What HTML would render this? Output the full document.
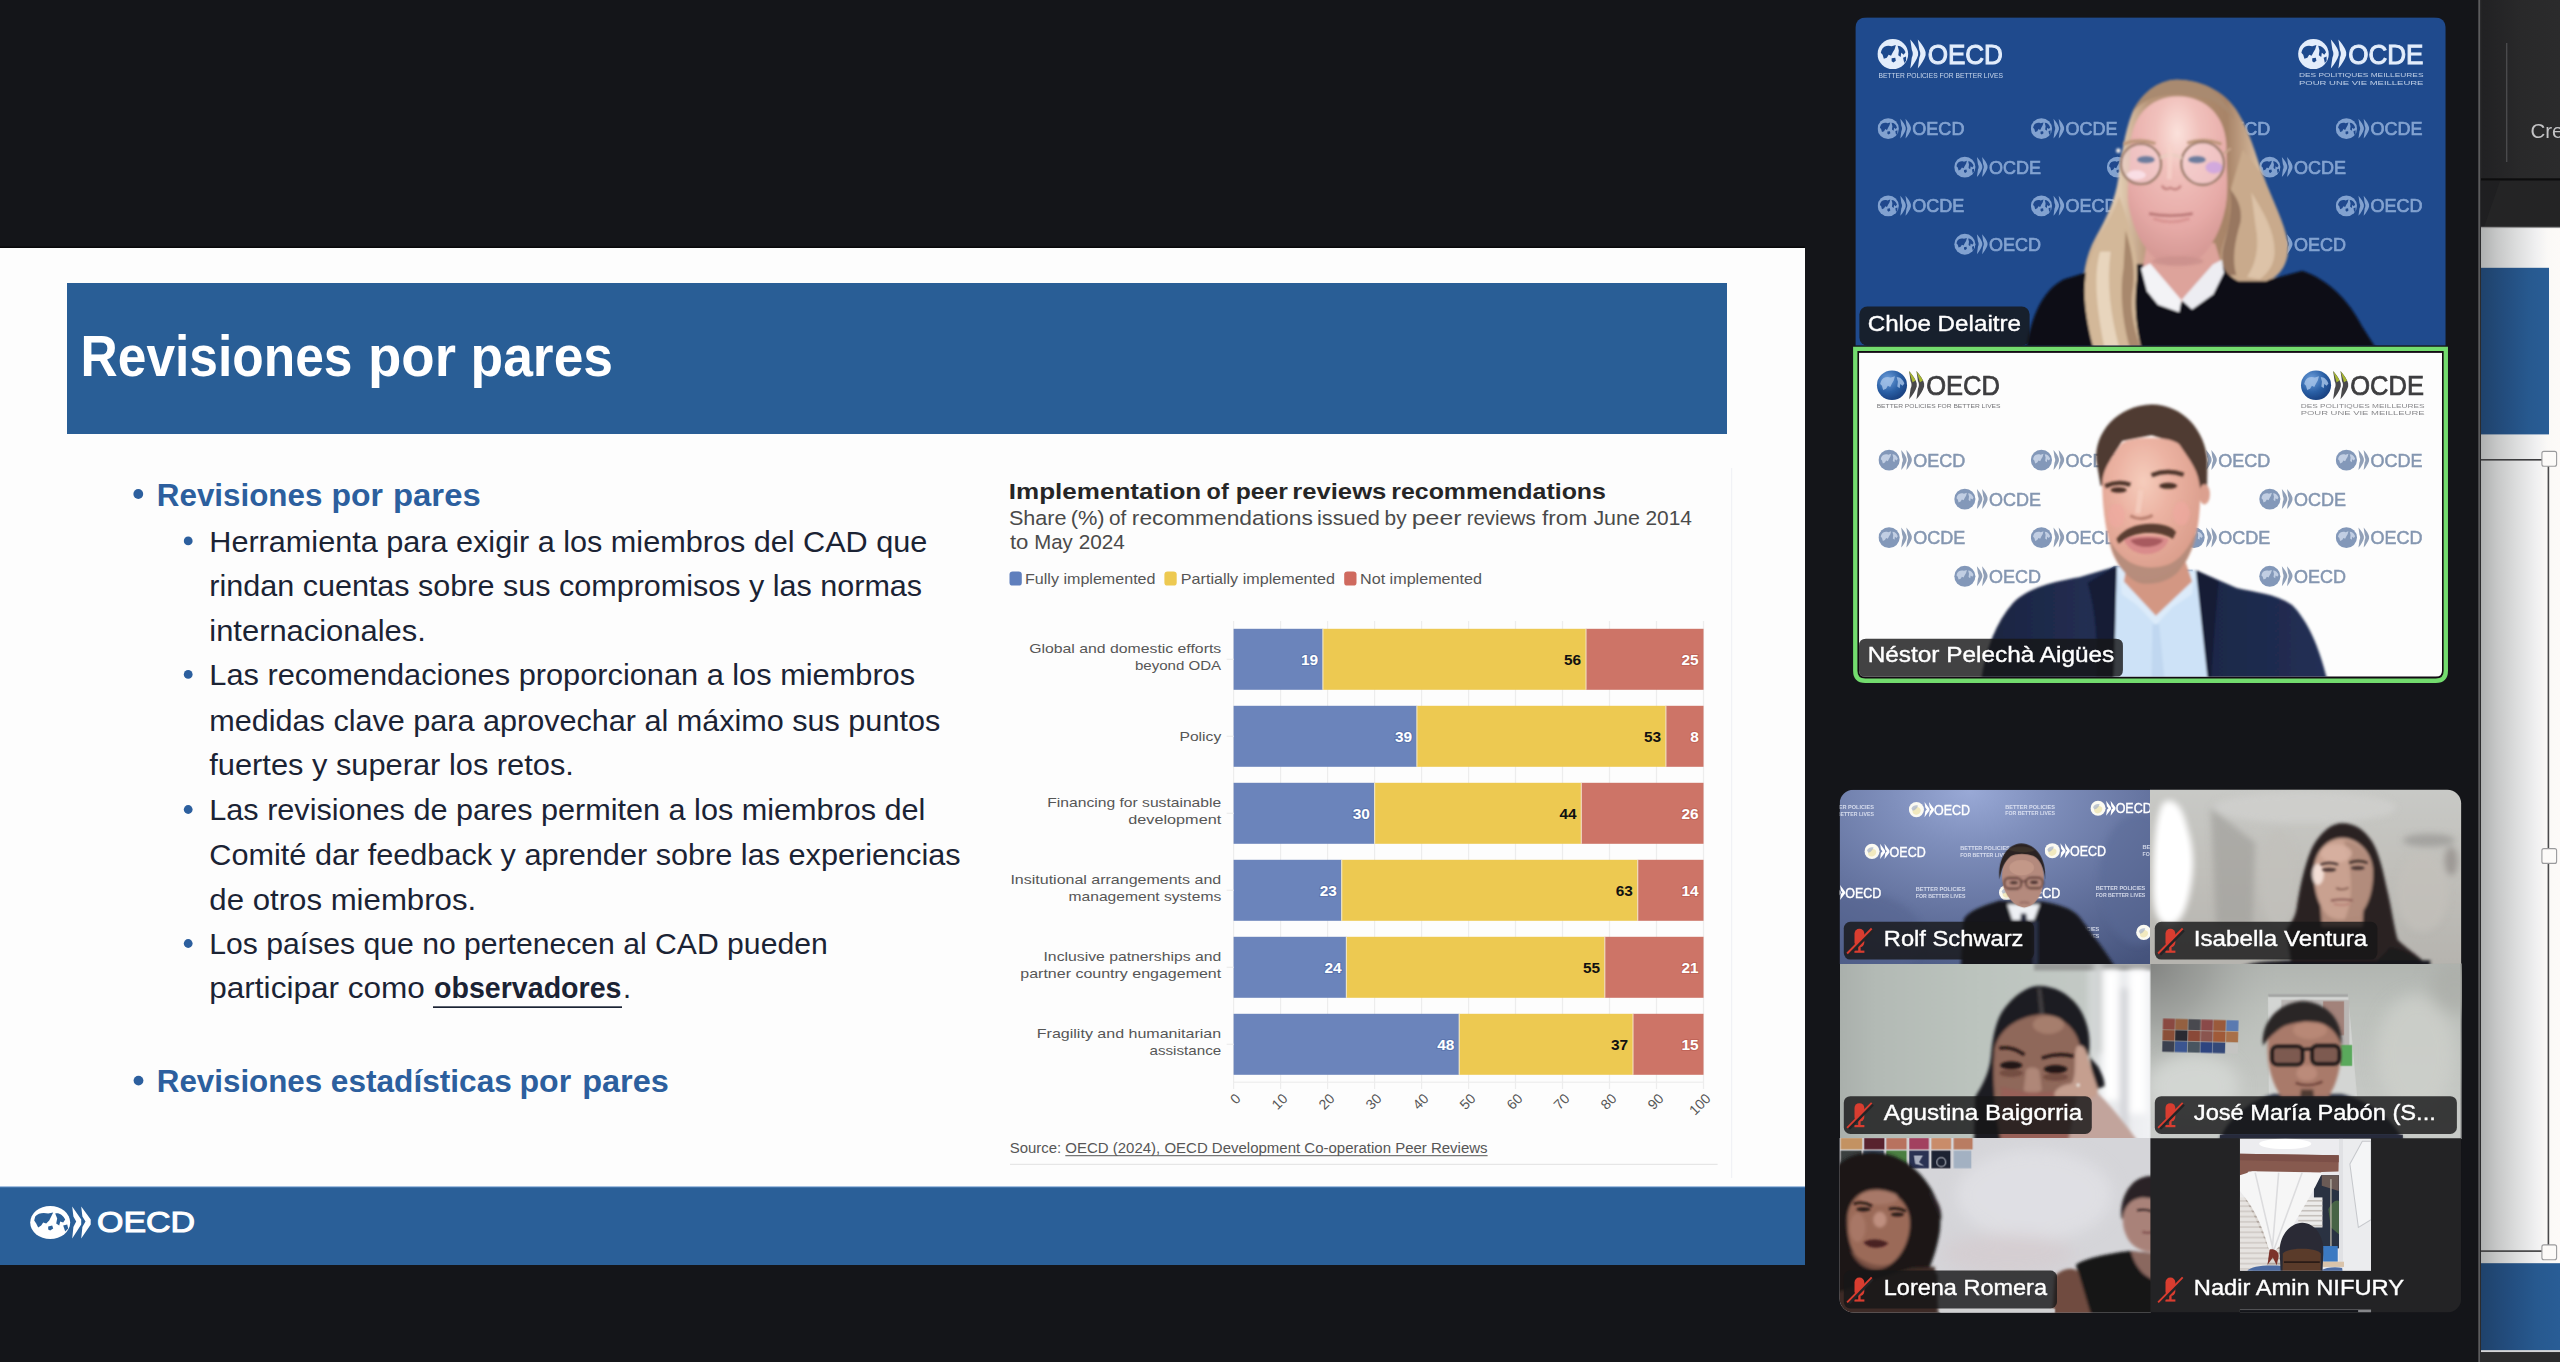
<!DOCTYPE html>
<html><head><meta charset="utf-8"><title>Zoom Meeting</title>
<style>
html,body{margin:0;padding:0;background:#141519;width:2560px;height:1362px;overflow:hidden}
svg{display:block;font-family:"Liberation Sans",sans-serif}
text{white-space:pre}
</style></head><body>
<svg width="2560" height="1362" viewBox="0 0 2560 1362">
<defs>
<filter id="b1" x="-20%" y="-20%" width="140%" height="140%"><feGaussianBlur stdDeviation="1"/></filter>
<filter id="b2" x="-20%" y="-20%" width="140%" height="140%"><feGaussianBlur stdDeviation="2"/></filter>
<filter id="b3" x="-20%" y="-20%" width="140%" height="140%"><feGaussianBlur stdDeviation="3.5"/></filter>
<filter id="b5" x="-20%" y="-20%" width="140%" height="140%"><feGaussianBlur stdDeviation="5"/></filter>
<filter id="b9" x="-30%" y="-30%" width="160%" height="160%"><feGaussianBlur stdDeviation="9"/></filter>
<filter id="b6" x="-30%" y="-30%" width="160%" height="160%"><feGaussianBlur stdDeviation="6"/></filter>
<filter id="b12" x="-40%" y="-40%" width="180%" height="180%"><feGaussianBlur stdDeviation="12"/></filter>
<filter id="b60" x="-60%" y="-60%" width="220%" height="220%"><feGaussianBlur stdDeviation="60"/></filter>
<filter id="b25" x="-50%" y="-50%" width="200%" height="200%"><feGaussianBlur stdDeviation="25"/></filter>
<clipPath id="c1"><path d="M122,1196 L122,102 Q122,60 164,60 L2123,60 Q2165,60 2165,102 L2165,1196 Z"/></clipPath>
<linearGradient id="hair1" x1="0" y1="0" x2="1" y2="0"><stop offset="0" stop-color="#c7a98b"/><stop offset="0.18" stop-color="#e2ccb2"/><stop offset="0.32" stop-color="#b8967a"/><stop offset="0.7" stop-color="#a88468"/><stop offset="0.86" stop-color="#d8bc9f"/><stop offset="1" stop-color="#bb9a7d"/></linearGradient>
<radialGradient id="face1" cx="0.5" cy="0.22" r="0.75"><stop offset="0" stop-color="#fbe2dc"/><stop offset="0.3" stop-color="#f1c1bc"/><stop offset="0.75" stop-color="#e6aaa7"/><stop offset="1" stop-color="#d79a96"/></radialGradient>
<clipPath id="c2"><path d="M135,78 L2152,78 L2152,1178 Q2152,1200 2130,1200 L157,1200 Q135,1200 135,1178 Z"/></clipPath>
<radialGradient id="globe2" cx="0.35" cy="0.3" r="0.8"><stop offset="0" stop-color="#6fa0dc"/><stop offset="0.55" stop-color="#2a5fa5"/><stop offset="1" stop-color="#163a78"/></radialGradient>
<radialGradient id="face2" cx="0.42" cy="0.3" r="0.8"><stop offset="0" stop-color="#f6cdbc"/><stop offset="0.35" stop-color="#ecb3a3"/><stop offset="0.8" stop-color="#dc9f8d"/><stop offset="1" stop-color="#c98f7e"/></radialGradient>
<linearGradient id="suit2" x1="0" y1="0" x2="1" y2="0"><stop offset="0" stop-color="#1b2440"/><stop offset="0.3" stop-color="#222e52"/><stop offset="0.6" stop-color="#1c2747"/><stop offset="1" stop-color="#222f55"/></linearGradient>
<clipPath id="cg"><rect x="68" y="68" width="2150" height="1809" rx="48"/></clipPath>
<clipPath id="cA"><rect x="68" y="68" width="1076" height="603"/></clipPath>
<clipPath id="cB"><rect x="1143" y="68" width="1075" height="603"/></clipPath>
<clipPath id="cC"><rect x="68" y="670" width="1076" height="605"/></clipPath>
<clipPath id="cD"><rect x="1143" y="670" width="1075" height="605"/></clipPath>
<clipPath id="cE"><rect x="68" y="1274" width="1076" height="603"/></clipPath>
<clipPath id="cF"><rect x="1143" y="1274" width="1075" height="603"/></clipPath>
<linearGradient id="gA" x1="0" y1="0" x2="1" y2="1"><stop offset="0" stop-color="#6c80b4"/><stop offset="0.35" stop-color="#8296c8"/><stop offset="0.7" stop-color="#5a6ea3"/><stop offset="1" stop-color="#3c4d80"/></linearGradient>
<linearGradient id="gB" x1="0" y1="0" x2="1" y2="0"><stop offset="0" stop-color="#cfccc5"/><stop offset="0.08" stop-color="#f2f0ec"/><stop offset="0.17" stop-color="#d3d0c8"/><stop offset="0.6" stop-color="#c9c6be"/><stop offset="1" stop-color="#b3aea6"/></linearGradient>
<linearGradient id="gC" x1="0" y1="0" x2="1" y2="0"><stop offset="0" stop-color="#c3c9c1"/><stop offset="0.55" stop-color="#cdd2cb"/><stop offset="0.8" stop-color="#dfe2e0"/><stop offset="0.9" stop-color="#f6f7f8"/><stop offset="1" stop-color="#e3e5e6"/></linearGradient>
<linearGradient id="gD" x1="0" y1="0" x2="1" y2="0"><stop offset="0" stop-color="#c6cac5"/><stop offset="0.5" stop-color="#d3d6d1"/><stop offset="1" stop-color="#c2c5c0"/></linearGradient>
<radialGradient id="gA2" cx="0.42" cy="0.02" r="0.95" gradientTransform="scale(1,1.2)"><stop offset="0" stop-color="#99a9d6"/><stop offset="0.26" stop-color="#7f8fbc"/><stop offset="0.58" stop-color="#6675a1"/><stop offset="1" stop-color="#45537c"/></radialGradient>
<linearGradient id="gB2" x1="0" y1="0" x2="0" y2="1"><stop offset="0" stop-color="#c9cac7"/><stop offset="0.4" stop-color="#c2c1bc"/><stop offset="1" stop-color="#b6b4af"/></linearGradient>
<linearGradient id="gC2" x1="0" y1="0" x2="1" y2="0"><stop offset="0" stop-color="#a9afab"/><stop offset="0.12" stop-color="#b3bab5"/><stop offset="0.45" stop-color="#bcc4be"/><stop offset="0.78" stop-color="#c3c9c5"/><stop offset="0.84" stop-color="#e6e8ea"/><stop offset="1" stop-color="#f1f2f5"/></linearGradient>
<linearGradient id="gD2" x1="0" y1="0" x2="0" y2="1"><stop offset="0" stop-color="#b1b5b1"/><stop offset="0.25" stop-color="#bcc0bb"/><stop offset="0.7" stop-color="#c4c7c3"/><stop offset="1" stop-color="#c9ccc9"/></linearGradient>
<radialGradient id="topD" gradientUnits="userSpaceOnUse" cx="0" cy="0" r="1000"><stop offset="0" stop-color="#7f807e" stop-opacity="0.95"/><stop offset="0.45" stop-color="#8e908d" stop-opacity="0.6"/><stop offset="1" stop-color="#b1b5b1" stop-opacity="0"/></radialGradient>
<clipPath id="cF2"><rect x="703" y="20" width="1004" height="1012"/></clipPath>
<linearGradient id="shd" x1="0" y1="0" x2="1" y2="0"><stop offset="0" stop-color="#aeb0b0"/><stop offset="0.2" stop-color="#c6c7c7"/><stop offset="0.45" stop-color="#dcdddd"/><stop offset="0.7" stop-color="#f0f0f1"/><stop offset="0.85" stop-color="#fbf9f7"/><stop offset="1" stop-color="#fdfaf8"/></linearGradient>
<linearGradient id="sbl" x1="0" y1="0" x2="1" y2="0"><stop offset="0" stop-color="#1f426b"/><stop offset="0.35" stop-color="#234d7e"/><stop offset="0.7" stop-color="#27598f"/><stop offset="1" stop-color="#295d96"/></linearGradient>
<linearGradient id="tb" x1="0" y1="0" x2="1" y2="0"><stop offset="0" stop-color="#212123"/><stop offset="0.5" stop-color="#29292a"/><stop offset="1" stop-color="#2b2b2c"/></linearGradient>
</defs>
<rect width="2560" height="1362" fill="#141519"/>
<rect x="0" y="248" width="1805" height="1017" fill="#fdfdfd"/>
<rect x="0" y="246.5" width="1805" height="1.5" fill="#08080a"/>
<rect x="67" y="283" width="1660" height="151" fill="#295e96"/>
<text x="80.6" y="376.1" font-size="57" fill="#ffffff" font-weight="bold" textLength="271.8" lengthAdjust="spacingAndGlyphs" >Revisiones</text>
<text x="368.0" y="376.1" font-size="57" fill="#ffffff" font-weight="bold" textLength="88.0" lengthAdjust="spacingAndGlyphs" >por</text>
<text x="470.6" y="376.1" font-size="57" fill="#ffffff" font-weight="bold" textLength="142.4" lengthAdjust="spacingAndGlyphs" >pares</text>
<rect x="0" y="1187" width="1805" height="78" fill="#2a5f98"/>
<rect x="0" y="1186.3" width="1805" height="1" fill="#7fa6d3"/>
<g transform="translate(50.2,1222.5) scale(1.000)" opacity="1.0"><ellipse cx="0" cy="0" rx="20" ry="16.6" fill="#ffffff"/><path d="M-15,-6 C-12,-10 -6,-10 -2,-9 L3,-10 L1,-6 L-1,-2 L-4,1 L-7,0 L-9,3 L-12,5 L-14,1 L-16,-2 Z" fill="#2a5f98"/><path d="M5,-9 C9,-10 13,-7 15,-3 L13,0 L10,-1 L9,3 L6,1 L7,-4 Z" fill="#2a5f98"/><path d="M-2,4 L2,3 L3,6 L0,8 L-2,7 Z" fill="#2a5f98"/><path d="M13,3 L17,2 L18,6 L15,9 Z" fill="#2a5f98"/><path d="M22,-16 L31,-3 L31,2 L22,16 L23.2,4.5 L26,-1 L23.2,-6 Z" fill="#ffffff"/><path d="M31,-16 L40.5,-3 L40.5,2 L31,16 L32.2,4.5 L35.3,-1 L32.2,-6 Z" fill="#ffffff"/><text x="46.8" y="9.3" font-size="30" fill="#ffffff" stroke="#ffffff" stroke-width="1.1" textLength="98" lengthAdjust="spacingAndGlyphs">OECD</text></g>
<circle cx="138.3" cy="494" r="4.9" fill="#2c5f9e"/>
<text x="156.8" y="506.2" font-size="31" fill="#2c5f9e" font-weight="bold" textLength="165.6" lengthAdjust="spacingAndGlyphs" >Revisiones</text>
<text x="331.5" y="506.2" font-size="31" fill="#2c5f9e" font-weight="bold" textLength="51.5" lengthAdjust="spacingAndGlyphs" >por</text>
<text x="393.0" y="506.2" font-size="31" fill="#2c5f9e" font-weight="bold" textLength="87.7" lengthAdjust="spacingAndGlyphs" >pares</text>
<circle cx="188.2" cy="540.9" r="4.4" fill="#2c5f9e"/>
<text x="209.3" y="551.7" font-size="29" fill="#1b2334" textLength="718.0" lengthAdjust="spacingAndGlyphs" >Herramienta para exigir a los miembros del CAD que</text>
<text x="209.3" y="596.0" font-size="29" fill="#1b2334" textLength="712.8" lengthAdjust="spacingAndGlyphs" >rindan cuentas sobre sus compromisos y las normas</text>
<text x="209.3" y="640.9" font-size="29" fill="#1b2334" textLength="216.5" lengthAdjust="spacingAndGlyphs" >internacionales.</text>
<circle cx="188.2" cy="674.4" r="4.4" fill="#2c5f9e"/>
<text x="209.3" y="685.2" font-size="29" fill="#1b2334" textLength="705.8" lengthAdjust="spacingAndGlyphs" >Las recomendaciones proporcionan a los miembros</text>
<text x="209.3" y="730.8" font-size="29" fill="#1b2334" textLength="730.9" lengthAdjust="spacingAndGlyphs" >medidas clave para aprovechar al máximo sus puntos</text>
<text x="209.3" y="774.7" font-size="29" fill="#1b2334" textLength="364.6" lengthAdjust="spacingAndGlyphs" >fuertes y superar los retos.</text>
<circle cx="188.2" cy="809.5" r="4.4" fill="#2c5f9e"/>
<text x="209.3" y="820.3" font-size="29" fill="#1b2334" textLength="716.1" lengthAdjust="spacingAndGlyphs" >Las revisiones de pares permiten a los miembros del</text>
<text x="209.3" y="865.2" font-size="29" fill="#1b2334" textLength="751.3" lengthAdjust="spacingAndGlyphs" >Comité dar feedback y aprender sobre las experiencias</text>
<text x="209.3" y="909.6" font-size="29" fill="#1b2334" textLength="266.9" lengthAdjust="spacingAndGlyphs" >de otros miembros.</text>
<circle cx="188.2" cy="943.5" r="4.4" fill="#2c5f9e"/>
<text x="209.3" y="954.3" font-size="29" fill="#1b2334" textLength="618.4" lengthAdjust="spacingAndGlyphs" >Los países que no pertenecen al CAD pueden</text>
<text x="209.3" y="998.2" font-size="29" fill="#1b2334" textLength="224.3" lengthAdjust="spacingAndGlyphs" >participar como </text>
<text x="434.0" y="998.2" font-size="29" fill="#1b2334" font-weight="bold" textLength="187.5" lengthAdjust="spacingAndGlyphs" >observadores</text>
<rect x="433" y="1006.3" width="189" height="1.7" fill="#1b2334"/>
<text x="623.0" y="998.2" font-size="29" fill="#1b2334" >.</text>
<circle cx="138.5" cy="1080.6" r="4.9" fill="#2c5f9e"/>
<text x="156.8" y="1092.0" font-size="31" fill="#2c5f9e" font-weight="bold" textLength="165.4" lengthAdjust="spacingAndGlyphs" >Revisiones</text>
<text x="330.8" y="1092.0" font-size="31" fill="#2c5f9e" font-weight="bold" textLength="181.0" lengthAdjust="spacingAndGlyphs" >estadísticas</text>
<text x="519.5" y="1092.0" font-size="31" fill="#2c5f9e" font-weight="bold" textLength="51.7" lengthAdjust="spacingAndGlyphs" >por</text>
<text x="582.2" y="1092.0" font-size="31" fill="#2c5f9e" font-weight="bold" textLength="86.7" lengthAdjust="spacingAndGlyphs" >pares</text>
<rect x="1731" y="468" width="1.2" height="710" fill="#f1f2f6"/>
<text x="1008.8" y="499.2" font-size="21.7" fill="#262626" font-weight="bold" textLength="192.4" lengthAdjust="spacingAndGlyphs" >Implementation</text>
<text x="1206.6" y="499.2" font-size="21.7" fill="#262626" font-weight="bold" textLength="22.1" lengthAdjust="spacingAndGlyphs" >of</text>
<text x="1235.7" y="499.2" font-size="21.7" fill="#262626" font-weight="bold" textLength="52.1" lengthAdjust="spacingAndGlyphs" >peer</text>
<text x="1292.2" y="499.2" font-size="21.7" fill="#262626" font-weight="bold" textLength="94.2" lengthAdjust="spacingAndGlyphs" >reviews</text>
<text x="1391.2" y="499.2" font-size="21.7" fill="#262626" font-weight="bold" textLength="214.8" lengthAdjust="spacingAndGlyphs" >recommendations</text>
<text x="1008.9" y="524.8" font-size="20.5" fill="#4a4a4a" textLength="57.7" lengthAdjust="spacingAndGlyphs" >Share</text>
<text x="1070.7" y="524.8" font-size="20.5" fill="#4a4a4a" textLength="33.9" lengthAdjust="spacingAndGlyphs" >(%)</text>
<text x="1109.1" y="524.8" font-size="20.5" fill="#4a4a4a" textLength="17.3" lengthAdjust="spacingAndGlyphs" >of</text>
<text x="1131.8" y="524.8" font-size="20.5" fill="#4a4a4a" textLength="181.0" lengthAdjust="spacingAndGlyphs" >recommendations</text>
<text x="1317.0" y="524.8" font-size="20.5" fill="#4a4a4a" textLength="62.9" lengthAdjust="spacingAndGlyphs" >issued</text>
<text x="1384.6" y="524.8" font-size="20.5" fill="#4a4a4a" textLength="22.0" lengthAdjust="spacingAndGlyphs" >by</text>
<text x="1411.7" y="524.8" font-size="20.5" fill="#4a4a4a" textLength="49.9" lengthAdjust="spacingAndGlyphs" >peer</text>
<text x="1466.7" y="524.8" font-size="20.5" fill="#4a4a4a" textLength="69.1" lengthAdjust="spacingAndGlyphs" >reviews</text>
<text x="1542.0" y="524.8" font-size="20.5" fill="#4a4a4a" textLength="45.3" lengthAdjust="spacingAndGlyphs" >from</text>
<text x="1593.4" y="524.8" font-size="20.5" fill="#4a4a4a" textLength="46.5" lengthAdjust="spacingAndGlyphs" >June</text>
<text x="1645.5" y="524.8" font-size="20.5" fill="#4a4a4a" textLength="46.5" lengthAdjust="spacingAndGlyphs" >2014</text>
<text x="1009.9" y="549.4" font-size="20.5" fill="#4a4a4a" textLength="18.5" lengthAdjust="spacingAndGlyphs" >to</text>
<text x="1034.3" y="549.4" font-size="20.5" fill="#4a4a4a" textLength="38.5" lengthAdjust="spacingAndGlyphs" >May</text>
<text x="1078.7" y="549.4" font-size="20.5" fill="#4a4a4a" textLength="46.1" lengthAdjust="spacingAndGlyphs" >2024</text>
<rect x="1009.5" y="571.4" width="12.3" height="14.2" rx="3.2" fill="#5f7fbd"/>
<text x="1025.0" y="584.3" font-size="14.8" fill="#555555" textLength="130.5" lengthAdjust="spacingAndGlyphs" >Fully implemented</text>
<rect x="1164.4" y="571.4" width="12.3" height="14.2" rx="3.2" fill="#edc951"/>
<text x="1180.8" y="584.3" font-size="14.8" fill="#555555" textLength="154.2" lengthAdjust="spacingAndGlyphs" >Partially implemented</text>
<rect x="1344.2" y="571.4" width="12.3" height="14.2" rx="3.2" fill="#cf6a5f"/>
<text x="1360.0" y="584.3" font-size="14.8" fill="#555555" textLength="122.0" lengthAdjust="spacingAndGlyphs" >Not implemented</text>
<rect x="1233.0" y="621" width="1.2" height="468" fill="#ededed"/>
<rect x="1280.0" y="621" width="1.2" height="468" fill="#ededed"/>
<rect x="1327.0" y="621" width="1.2" height="468" fill="#ededed"/>
<rect x="1374.0" y="621" width="1.2" height="468" fill="#ededed"/>
<rect x="1421.0" y="621" width="1.2" height="468" fill="#ededed"/>
<rect x="1468.0" y="621" width="1.2" height="468" fill="#ededed"/>
<rect x="1514.9" y="621" width="1.2" height="468" fill="#ededed"/>
<rect x="1561.9" y="621" width="1.2" height="468" fill="#ededed"/>
<rect x="1608.9" y="621" width="1.2" height="468" fill="#ededed"/>
<rect x="1655.9" y="621" width="1.2" height="468" fill="#ededed"/>
<rect x="1702.9" y="621" width="1.2" height="468" fill="#ededed"/>
<g font-weight="bold" font-size="15.4">
<rect x="1233.6" y="628.8" width="89.3" height="61" fill="#6b84bb"/>
<rect x="1322.9" y="628.8" width="263.1" height="61" fill="#edc951"/>
<rect x="1586.0" y="628.8" width="117.5" height="61" fill="#cd7467"/>
<rect x="1322.3" y="628.8" width="1.2" height="61" fill="#f3e9c8" opacity="0.85"/>
<rect x="1585.4" y="628.8" width="1.2" height="61" fill="#f3e0c8" opacity="0.85"/>
<rect x="1226.6" y="658.7" width="7" height="1.2" fill="#ededed"/>
<text x="1318.1" y="664.8" text-anchor="end" fill="#ffffff" stroke="#4d68a3" stroke-width="2.2" stroke-opacity="0.55" paint-order="stroke">19</text>
<text x="1581.2" y="664.8" text-anchor="end" fill="#111111">56</text>
<text x="1698.7" y="664.8" text-anchor="end" fill="#ffffff" stroke="#b5574b" stroke-width="2.2" stroke-opacity="0.55" paint-order="stroke">25</text>
<rect x="1233.6" y="705.8" width="183.3" height="61" fill="#6b84bb"/>
<rect x="1416.9" y="705.8" width="249.0" height="61" fill="#edc951"/>
<rect x="1665.9" y="705.8" width="37.6" height="61" fill="#cd7467"/>
<rect x="1416.3" y="705.8" width="1.2" height="61" fill="#f3e9c8" opacity="0.85"/>
<rect x="1665.3" y="705.8" width="1.2" height="61" fill="#f3e0c8" opacity="0.85"/>
<rect x="1226.6" y="735.7" width="7" height="1.2" fill="#ededed"/>
<text x="1412.1" y="741.8" text-anchor="end" fill="#ffffff" stroke="#4d68a3" stroke-width="2.2" stroke-opacity="0.55" paint-order="stroke">39</text>
<text x="1661.1" y="741.8" text-anchor="end" fill="#111111">53</text>
<text x="1698.7" y="741.8" text-anchor="end" fill="#ffffff" stroke="#b5574b" stroke-width="2.2" stroke-opacity="0.55" paint-order="stroke">8</text>
<rect x="1233.6" y="782.8" width="141.0" height="61" fill="#6b84bb"/>
<rect x="1374.6" y="782.8" width="206.8" height="61" fill="#edc951"/>
<rect x="1581.3" y="782.8" width="122.2" height="61" fill="#cd7467"/>
<rect x="1374.0" y="782.8" width="1.2" height="61" fill="#f3e9c8" opacity="0.85"/>
<rect x="1580.7" y="782.8" width="1.2" height="61" fill="#f3e0c8" opacity="0.85"/>
<rect x="1226.6" y="812.7" width="7" height="1.2" fill="#ededed"/>
<text x="1369.8" y="818.8" text-anchor="end" fill="#ffffff" stroke="#4d68a3" stroke-width="2.2" stroke-opacity="0.55" paint-order="stroke">30</text>
<text x="1576.5" y="818.8" text-anchor="end" fill="#111111">44</text>
<text x="1698.7" y="818.8" text-anchor="end" fill="#ffffff" stroke="#b5574b" stroke-width="2.2" stroke-opacity="0.55" paint-order="stroke">26</text>
<rect x="1233.6" y="859.8" width="108.1" height="61" fill="#6b84bb"/>
<rect x="1341.7" y="859.8" width="296.0" height="61" fill="#edc951"/>
<rect x="1637.7" y="859.8" width="65.8" height="61" fill="#cd7467"/>
<rect x="1341.1" y="859.8" width="1.2" height="61" fill="#f3e9c8" opacity="0.85"/>
<rect x="1637.1" y="859.8" width="1.2" height="61" fill="#f3e0c8" opacity="0.85"/>
<rect x="1226.6" y="889.7" width="7" height="1.2" fill="#ededed"/>
<text x="1336.9" y="895.8" text-anchor="end" fill="#ffffff" stroke="#4d68a3" stroke-width="2.2" stroke-opacity="0.55" paint-order="stroke">23</text>
<text x="1632.9" y="895.8" text-anchor="end" fill="#111111">63</text>
<text x="1698.7" y="895.8" text-anchor="end" fill="#ffffff" stroke="#b5574b" stroke-width="2.2" stroke-opacity="0.55" paint-order="stroke">14</text>
<rect x="1233.6" y="936.8" width="112.8" height="61" fill="#6b84bb"/>
<rect x="1346.4" y="936.8" width="258.4" height="61" fill="#edc951"/>
<rect x="1604.8" y="936.8" width="98.7" height="61" fill="#cd7467"/>
<rect x="1345.8" y="936.8" width="1.2" height="61" fill="#f3e9c8" opacity="0.85"/>
<rect x="1604.2" y="936.8" width="1.2" height="61" fill="#f3e0c8" opacity="0.85"/>
<rect x="1226.6" y="966.7" width="7" height="1.2" fill="#ededed"/>
<text x="1341.6" y="972.8" text-anchor="end" fill="#ffffff" stroke="#4d68a3" stroke-width="2.2" stroke-opacity="0.55" paint-order="stroke">24</text>
<text x="1600.0" y="972.8" text-anchor="end" fill="#111111">55</text>
<text x="1698.7" y="972.8" text-anchor="end" fill="#ffffff" stroke="#b5574b" stroke-width="2.2" stroke-opacity="0.55" paint-order="stroke">21</text>
<rect x="1233.6" y="1013.8" width="225.6" height="61" fill="#6b84bb"/>
<rect x="1459.2" y="1013.8" width="173.9" height="61" fill="#edc951"/>
<rect x="1633.0" y="1013.8" width="70.5" height="61" fill="#cd7467"/>
<rect x="1458.6" y="1013.8" width="1.2" height="61" fill="#f3e9c8" opacity="0.85"/>
<rect x="1632.4" y="1013.8" width="1.2" height="61" fill="#f3e0c8" opacity="0.85"/>
<rect x="1226.6" y="1043.7" width="7" height="1.2" fill="#ededed"/>
<text x="1454.4" y="1049.8" text-anchor="end" fill="#ffffff" stroke="#4d68a3" stroke-width="2.2" stroke-opacity="0.55" paint-order="stroke">48</text>
<text x="1628.2" y="1049.8" text-anchor="end" fill="#111111">37</text>
<text x="1698.7" y="1049.8" text-anchor="end" fill="#ffffff" stroke="#b5574b" stroke-width="2.2" stroke-opacity="0.55" paint-order="stroke">15</text>
</g>
<text x="1029.2" y="653.4" font-size="13.6" fill="#565656" textLength="192.0" lengthAdjust="spacingAndGlyphs" >Global and domestic efforts</text>
<text x="1134.9" y="669.9" font-size="13.6" fill="#565656" textLength="86.3" lengthAdjust="spacingAndGlyphs" >beyond ODA</text>
<text x="1179.5" y="741.0" font-size="13.6" fill="#565656" textLength="41.7" lengthAdjust="spacingAndGlyphs" >Policy</text>
<text x="1047.3" y="807.4" font-size="13.6" fill="#565656" textLength="173.9" lengthAdjust="spacingAndGlyphs" >Financing for sustainable</text>
<text x="1128.3" y="823.9" font-size="13.6" fill="#565656" textLength="92.9" lengthAdjust="spacingAndGlyphs" >development</text>
<text x="1010.4" y="884.4" font-size="13.6" fill="#565656" textLength="210.8" lengthAdjust="spacingAndGlyphs" >Insitutional arrangements and</text>
<text x="1068.6" y="900.9" font-size="13.6" fill="#565656" textLength="152.6" lengthAdjust="spacingAndGlyphs" >management systems</text>
<text x="1043.5" y="961.4" font-size="13.6" fill="#565656" textLength="177.7" lengthAdjust="spacingAndGlyphs" >Inclusive patnerships and</text>
<text x="1020.3" y="977.9" font-size="13.6" fill="#565656" textLength="200.9" lengthAdjust="spacingAndGlyphs" >partner country engagement</text>
<text x="1036.8" y="1038.4" font-size="13.6" fill="#565656" textLength="184.4" lengthAdjust="spacingAndGlyphs" >Fragility and humanitarian</text>
<text x="1149.5" y="1054.9" font-size="13.6" fill="#565656" textLength="71.7" lengthAdjust="spacingAndGlyphs" >assistance</text>
<text transform="translate(1241.6,1099.6) rotate(-45)" text-anchor="end" font-size="14" fill="#565656">0</text>
<text transform="translate(1288.6,1099.6) rotate(-45)" text-anchor="end" font-size="14" fill="#565656">10</text>
<text transform="translate(1335.6,1099.6) rotate(-45)" text-anchor="end" font-size="14" fill="#565656">20</text>
<text transform="translate(1382.6,1099.6) rotate(-45)" text-anchor="end" font-size="14" fill="#565656">30</text>
<text transform="translate(1429.6,1099.6) rotate(-45)" text-anchor="end" font-size="14" fill="#565656">40</text>
<text transform="translate(1476.5,1099.6) rotate(-45)" text-anchor="end" font-size="14" fill="#565656">50</text>
<text transform="translate(1523.5,1099.6) rotate(-45)" text-anchor="end" font-size="14" fill="#565656">60</text>
<text transform="translate(1570.5,1099.6) rotate(-45)" text-anchor="end" font-size="14" fill="#565656">70</text>
<text transform="translate(1617.5,1099.6) rotate(-45)" text-anchor="end" font-size="14" fill="#565656">80</text>
<text transform="translate(1664.5,1099.6) rotate(-45)" text-anchor="end" font-size="14" fill="#565656">90</text>
<text transform="translate(1711.5,1099.6) rotate(-45)" text-anchor="end" font-size="14" fill="#565656">100</text>
<rect x="1233.6" y="1081.6" width="469.9" height="1.2" fill="#ededed"/>
<text x="1009.7" y="1153.0" font-size="14" fill="#565656" textLength="55.6" lengthAdjust="spacingAndGlyphs" >Source: </text>
<text x="1065.3" y="1153.0" font-size="14" fill="#565656" textLength="422.3" lengthAdjust="spacingAndGlyphs" >OECD (2024), OECD Development Co-operation Peer Reviews</text>
<rect x="1065.3" y="1155.2" width="422.3" height="1" fill="#565656"/>
<rect x="1010" y="1163.8" width="707.6" height="1.2" fill="#e6e6e6"/>
<g transform="translate(1820,0) scale(0.28906)"><g clip-path="url(#c1)">
<rect x="122" y="60" width="2043" height="1136" fill="#1f4a8d"/>
<g filter="url(#b2)">
<g transform="translate(200,135) scale(1.040)" opacity="1.0"><ellipse cx="50" cy="50" rx="51" ry="50" fill="#e3edfb"/><path d="M12,38 C18,22 34,20 46,24 L60,20 L56,34 L50,44 L44,56 L36,52 L30,62 L20,66 L16,52 L10,46 Z" fill="#1f4a8d"/><path d="M66,22 C78,22 88,32 92,44 L86,52 L78,46 L76,60 L68,54 L70,38 Z" fill="#1f4a8d"/><path d="M46,64 L58,62 L60,72 L52,78 L46,74 Z" fill="#1f4a8d"/><path d="M84,62 L94,58 L94,72 L88,80 Z" fill="#1f4a8d"/><path d="M108,2 C122,18 132,34 134,44 L134,54 C130,68 120,84 108,98 L113,62 C117,54 118,46 113,36 Z" fill="#e3edfb"/><path d="M133,2 C147,18 157,34 159,44 L159,54 C155,68 145,84 133,98 L138,62 C142,54 143,46 138,36 Z" fill="#e3edfb"/><text x="166" y="82" font-size="92" fill="#e3edfb" stroke="#e3edfb" stroke-width="3.5" textLength="250" lengthAdjust="spacingAndGlyphs">OECD</text><text x="2" y="130" font-size="21" fill="#e3edfb" textLength="414" lengthAdjust="spacingAndGlyphs" opacity="0.85">BETTER POLICIES FOR BETTER LIVES</text></g>
<g transform="translate(1655,135) scale(1.040)" opacity="1.0"><ellipse cx="50" cy="50" rx="51" ry="50" fill="#e3edfb"/><path d="M12,38 C18,22 34,20 46,24 L60,20 L56,34 L50,44 L44,56 L36,52 L30,62 L20,66 L16,52 L10,46 Z" fill="#1f4a8d"/><path d="M66,22 C78,22 88,32 92,44 L86,52 L78,46 L76,60 L68,54 L70,38 Z" fill="#1f4a8d"/><path d="M46,64 L58,62 L60,72 L52,78 L46,74 Z" fill="#1f4a8d"/><path d="M84,62 L94,58 L94,72 L88,80 Z" fill="#1f4a8d"/><path d="M108,2 C122,18 132,34 134,44 L134,54 C130,68 120,84 108,98 L113,62 C117,54 118,46 113,36 Z" fill="#e3edfb"/><path d="M133,2 C147,18 157,34 159,44 L159,54 C155,68 145,84 133,98 L138,62 C142,54 143,46 138,36 Z" fill="#e3edfb"/><text x="166" y="82" font-size="92" fill="#e3edfb" stroke="#e3edfb" stroke-width="3.5" textLength="250" lengthAdjust="spacingAndGlyphs">OCDE</text><text x="2" y="128" font-size="20" fill="#e3edfb" textLength="414" lengthAdjust="spacingAndGlyphs" opacity="0.8">DES POLITIQUES MEILLEURES</text><text x="2" y="154" font-size="20" fill="#e3edfb" textLength="414" lengthAdjust="spacingAndGlyphs" opacity="0.8">POUR UNE VIE MEILLEURE</text></g>
</g>
<g filter="url(#b2)">
<g transform="translate(200,409) scale(0.720)" opacity="0.78"><ellipse cx="50" cy="50" rx="51" ry="50" fill="#9fbbe3"/><path d="M12,38 C18,22 34,20 46,24 L60,20 L56,34 L50,44 L44,56 L36,52 L30,62 L20,66 L16,52 L10,46 Z" fill="#1f4a8d"/><path d="M66,22 C78,22 88,32 92,44 L86,52 L78,46 L76,60 L68,54 L70,38 Z" fill="#1f4a8d"/><path d="M46,64 L58,62 L60,72 L52,78 L46,74 Z" fill="#1f4a8d"/><path d="M84,62 L94,58 L94,72 L88,80 Z" fill="#1f4a8d"/><path d="M108,2 C122,18 132,34 134,44 L134,54 C130,68 120,84 108,98 L113,62 C117,54 118,46 113,36 Z" fill="#9fbbe3"/><path d="M133,2 C147,18 157,34 159,44 L159,54 C155,68 145,84 133,98 L138,62 C142,54 143,46 138,36 Z" fill="#9fbbe3"/><text x="166" y="82" font-size="92" fill="#9fbbe3" stroke="#9fbbe3" stroke-width="3.5" textLength="250" lengthAdjust="spacingAndGlyphs">OECD</text></g>
<g transform="translate(730,409) scale(0.720)" opacity="0.78"><ellipse cx="50" cy="50" rx="51" ry="50" fill="#9fbbe3"/><path d="M12,38 C18,22 34,20 46,24 L60,20 L56,34 L50,44 L44,56 L36,52 L30,62 L20,66 L16,52 L10,46 Z" fill="#1f4a8d"/><path d="M66,22 C78,22 88,32 92,44 L86,52 L78,46 L76,60 L68,54 L70,38 Z" fill="#1f4a8d"/><path d="M46,64 L58,62 L60,72 L52,78 L46,74 Z" fill="#1f4a8d"/><path d="M84,62 L94,58 L94,72 L88,80 Z" fill="#1f4a8d"/><path d="M108,2 C122,18 132,34 134,44 L134,54 C130,68 120,84 108,98 L113,62 C117,54 118,46 113,36 Z" fill="#9fbbe3"/><path d="M133,2 C147,18 157,34 159,44 L159,54 C155,68 145,84 133,98 L138,62 C142,54 143,46 138,36 Z" fill="#9fbbe3"/><text x="166" y="82" font-size="92" fill="#9fbbe3" stroke="#9fbbe3" stroke-width="3.5" textLength="250" lengthAdjust="spacingAndGlyphs">OCDE</text></g>
<g transform="translate(1258,409) scale(0.720)" opacity="0.78"><ellipse cx="50" cy="50" rx="51" ry="50" fill="#9fbbe3"/><path d="M12,38 C18,22 34,20 46,24 L60,20 L56,34 L50,44 L44,56 L36,52 L30,62 L20,66 L16,52 L10,46 Z" fill="#1f4a8d"/><path d="M66,22 C78,22 88,32 92,44 L86,52 L78,46 L76,60 L68,54 L70,38 Z" fill="#1f4a8d"/><path d="M46,64 L58,62 L60,72 L52,78 L46,74 Z" fill="#1f4a8d"/><path d="M84,62 L94,58 L94,72 L88,80 Z" fill="#1f4a8d"/><path d="M108,2 C122,18 132,34 134,44 L134,54 C130,68 120,84 108,98 L113,62 C117,54 118,46 113,36 Z" fill="#9fbbe3"/><path d="M133,2 C147,18 157,34 159,44 L159,54 C155,68 145,84 133,98 L138,62 C142,54 143,46 138,36 Z" fill="#9fbbe3"/><text x="166" y="82" font-size="92" fill="#9fbbe3" stroke="#9fbbe3" stroke-width="3.5" textLength="250" lengthAdjust="spacingAndGlyphs">OECD</text></g>
<g transform="translate(1785,409) scale(0.720)" opacity="0.78"><ellipse cx="50" cy="50" rx="51" ry="50" fill="#9fbbe3"/><path d="M12,38 C18,22 34,20 46,24 L60,20 L56,34 L50,44 L44,56 L36,52 L30,62 L20,66 L16,52 L10,46 Z" fill="#1f4a8d"/><path d="M66,22 C78,22 88,32 92,44 L86,52 L78,46 L76,60 L68,54 L70,38 Z" fill="#1f4a8d"/><path d="M46,64 L58,62 L60,72 L52,78 L46,74 Z" fill="#1f4a8d"/><path d="M84,62 L94,58 L94,72 L88,80 Z" fill="#1f4a8d"/><path d="M108,2 C122,18 132,34 134,44 L134,54 C130,68 120,84 108,98 L113,62 C117,54 118,46 113,36 Z" fill="#9fbbe3"/><path d="M133,2 C147,18 157,34 159,44 L159,54 C155,68 145,84 133,98 L138,62 C142,54 143,46 138,36 Z" fill="#9fbbe3"/><text x="166" y="82" font-size="92" fill="#9fbbe3" stroke="#9fbbe3" stroke-width="3.5" textLength="250" lengthAdjust="spacingAndGlyphs">OCDE</text></g>
<g transform="translate(465,542) scale(0.720)" opacity="0.78"><ellipse cx="50" cy="50" rx="51" ry="50" fill="#9fbbe3"/><path d="M12,38 C18,22 34,20 46,24 L60,20 L56,34 L50,44 L44,56 L36,52 L30,62 L20,66 L16,52 L10,46 Z" fill="#1f4a8d"/><path d="M66,22 C78,22 88,32 92,44 L86,52 L78,46 L76,60 L68,54 L70,38 Z" fill="#1f4a8d"/><path d="M46,64 L58,62 L60,72 L52,78 L46,74 Z" fill="#1f4a8d"/><path d="M84,62 L94,58 L94,72 L88,80 Z" fill="#1f4a8d"/><path d="M108,2 C122,18 132,34 134,44 L134,54 C130,68 120,84 108,98 L113,62 C117,54 118,46 113,36 Z" fill="#9fbbe3"/><path d="M133,2 C147,18 157,34 159,44 L159,54 C155,68 145,84 133,98 L138,62 C142,54 143,46 138,36 Z" fill="#9fbbe3"/><text x="166" y="82" font-size="92" fill="#9fbbe3" stroke="#9fbbe3" stroke-width="3.5" textLength="250" lengthAdjust="spacingAndGlyphs">OCDE</text></g>
<g transform="translate(993,542) scale(0.720)" opacity="0.78"><ellipse cx="50" cy="50" rx="51" ry="50" fill="#9fbbe3"/><path d="M12,38 C18,22 34,20 46,24 L60,20 L56,34 L50,44 L44,56 L36,52 L30,62 L20,66 L16,52 L10,46 Z" fill="#1f4a8d"/><path d="M66,22 C78,22 88,32 92,44 L86,52 L78,46 L76,60 L68,54 L70,38 Z" fill="#1f4a8d"/><path d="M46,64 L58,62 L60,72 L52,78 L46,74 Z" fill="#1f4a8d"/><path d="M84,62 L94,58 L94,72 L88,80 Z" fill="#1f4a8d"/><path d="M108,2 C122,18 132,34 134,44 L134,54 C130,68 120,84 108,98 L113,62 C117,54 118,46 113,36 Z" fill="#9fbbe3"/><path d="M133,2 C147,18 157,34 159,44 L159,54 C155,68 145,84 133,98 L138,62 C142,54 143,46 138,36 Z" fill="#9fbbe3"/><text x="166" y="82" font-size="92" fill="#9fbbe3" stroke="#9fbbe3" stroke-width="3.5" textLength="250" lengthAdjust="spacingAndGlyphs">OECD</text></g>
<g transform="translate(1520,542) scale(0.720)" opacity="0.78"><ellipse cx="50" cy="50" rx="51" ry="50" fill="#9fbbe3"/><path d="M12,38 C18,22 34,20 46,24 L60,20 L56,34 L50,44 L44,56 L36,52 L30,62 L20,66 L16,52 L10,46 Z" fill="#1f4a8d"/><path d="M66,22 C78,22 88,32 92,44 L86,52 L78,46 L76,60 L68,54 L70,38 Z" fill="#1f4a8d"/><path d="M46,64 L58,62 L60,72 L52,78 L46,74 Z" fill="#1f4a8d"/><path d="M84,62 L94,58 L94,72 L88,80 Z" fill="#1f4a8d"/><path d="M108,2 C122,18 132,34 134,44 L134,54 C130,68 120,84 108,98 L113,62 C117,54 118,46 113,36 Z" fill="#9fbbe3"/><path d="M133,2 C147,18 157,34 159,44 L159,54 C155,68 145,84 133,98 L138,62 C142,54 143,46 138,36 Z" fill="#9fbbe3"/><text x="166" y="82" font-size="92" fill="#9fbbe3" stroke="#9fbbe3" stroke-width="3.5" textLength="250" lengthAdjust="spacingAndGlyphs">OCDE</text></g>
<g transform="translate(200,676) scale(0.720)" opacity="0.78"><ellipse cx="50" cy="50" rx="51" ry="50" fill="#9fbbe3"/><path d="M12,38 C18,22 34,20 46,24 L60,20 L56,34 L50,44 L44,56 L36,52 L30,62 L20,66 L16,52 L10,46 Z" fill="#1f4a8d"/><path d="M66,22 C78,22 88,32 92,44 L86,52 L78,46 L76,60 L68,54 L70,38 Z" fill="#1f4a8d"/><path d="M46,64 L58,62 L60,72 L52,78 L46,74 Z" fill="#1f4a8d"/><path d="M84,62 L94,58 L94,72 L88,80 Z" fill="#1f4a8d"/><path d="M108,2 C122,18 132,34 134,44 L134,54 C130,68 120,84 108,98 L113,62 C117,54 118,46 113,36 Z" fill="#9fbbe3"/><path d="M133,2 C147,18 157,34 159,44 L159,54 C155,68 145,84 133,98 L138,62 C142,54 143,46 138,36 Z" fill="#9fbbe3"/><text x="166" y="82" font-size="92" fill="#9fbbe3" stroke="#9fbbe3" stroke-width="3.5" textLength="250" lengthAdjust="spacingAndGlyphs">OCDE</text></g>
<g transform="translate(730,676) scale(0.720)" opacity="0.78"><ellipse cx="50" cy="50" rx="51" ry="50" fill="#9fbbe3"/><path d="M12,38 C18,22 34,20 46,24 L60,20 L56,34 L50,44 L44,56 L36,52 L30,62 L20,66 L16,52 L10,46 Z" fill="#1f4a8d"/><path d="M66,22 C78,22 88,32 92,44 L86,52 L78,46 L76,60 L68,54 L70,38 Z" fill="#1f4a8d"/><path d="M46,64 L58,62 L60,72 L52,78 L46,74 Z" fill="#1f4a8d"/><path d="M84,62 L94,58 L94,72 L88,80 Z" fill="#1f4a8d"/><path d="M108,2 C122,18 132,34 134,44 L134,54 C130,68 120,84 108,98 L113,62 C117,54 118,46 113,36 Z" fill="#9fbbe3"/><path d="M133,2 C147,18 157,34 159,44 L159,54 C155,68 145,84 133,98 L138,62 C142,54 143,46 138,36 Z" fill="#9fbbe3"/><text x="166" y="82" font-size="92" fill="#9fbbe3" stroke="#9fbbe3" stroke-width="3.5" textLength="250" lengthAdjust="spacingAndGlyphs">OECD</text></g>
<g transform="translate(1258,676) scale(0.720)" opacity="0.78"><ellipse cx="50" cy="50" rx="51" ry="50" fill="#9fbbe3"/><path d="M12,38 C18,22 34,20 46,24 L60,20 L56,34 L50,44 L44,56 L36,52 L30,62 L20,66 L16,52 L10,46 Z" fill="#1f4a8d"/><path d="M66,22 C78,22 88,32 92,44 L86,52 L78,46 L76,60 L68,54 L70,38 Z" fill="#1f4a8d"/><path d="M46,64 L58,62 L60,72 L52,78 L46,74 Z" fill="#1f4a8d"/><path d="M84,62 L94,58 L94,72 L88,80 Z" fill="#1f4a8d"/><path d="M108,2 C122,18 132,34 134,44 L134,54 C130,68 120,84 108,98 L113,62 C117,54 118,46 113,36 Z" fill="#9fbbe3"/><path d="M133,2 C147,18 157,34 159,44 L159,54 C155,68 145,84 133,98 L138,62 C142,54 143,46 138,36 Z" fill="#9fbbe3"/><text x="166" y="82" font-size="92" fill="#9fbbe3" stroke="#9fbbe3" stroke-width="3.5" textLength="250" lengthAdjust="spacingAndGlyphs">OCDE</text></g>
<g transform="translate(1785,676) scale(0.720)" opacity="0.78"><ellipse cx="50" cy="50" rx="51" ry="50" fill="#9fbbe3"/><path d="M12,38 C18,22 34,20 46,24 L60,20 L56,34 L50,44 L44,56 L36,52 L30,62 L20,66 L16,52 L10,46 Z" fill="#1f4a8d"/><path d="M66,22 C78,22 88,32 92,44 L86,52 L78,46 L76,60 L68,54 L70,38 Z" fill="#1f4a8d"/><path d="M46,64 L58,62 L60,72 L52,78 L46,74 Z" fill="#1f4a8d"/><path d="M84,62 L94,58 L94,72 L88,80 Z" fill="#1f4a8d"/><path d="M108,2 C122,18 132,34 134,44 L134,54 C130,68 120,84 108,98 L113,62 C117,54 118,46 113,36 Z" fill="#9fbbe3"/><path d="M133,2 C147,18 157,34 159,44 L159,54 C155,68 145,84 133,98 L138,62 C142,54 143,46 138,36 Z" fill="#9fbbe3"/><text x="166" y="82" font-size="92" fill="#9fbbe3" stroke="#9fbbe3" stroke-width="3.5" textLength="250" lengthAdjust="spacingAndGlyphs">OECD</text></g>
<g transform="translate(465,809) scale(0.720)" opacity="0.78"><ellipse cx="50" cy="50" rx="51" ry="50" fill="#9fbbe3"/><path d="M12,38 C18,22 34,20 46,24 L60,20 L56,34 L50,44 L44,56 L36,52 L30,62 L20,66 L16,52 L10,46 Z" fill="#1f4a8d"/><path d="M66,22 C78,22 88,32 92,44 L86,52 L78,46 L76,60 L68,54 L70,38 Z" fill="#1f4a8d"/><path d="M46,64 L58,62 L60,72 L52,78 L46,74 Z" fill="#1f4a8d"/><path d="M84,62 L94,58 L94,72 L88,80 Z" fill="#1f4a8d"/><path d="M108,2 C122,18 132,34 134,44 L134,54 C130,68 120,84 108,98 L113,62 C117,54 118,46 113,36 Z" fill="#9fbbe3"/><path d="M133,2 C147,18 157,34 159,44 L159,54 C155,68 145,84 133,98 L138,62 C142,54 143,46 138,36 Z" fill="#9fbbe3"/><text x="166" y="82" font-size="92" fill="#9fbbe3" stroke="#9fbbe3" stroke-width="3.5" textLength="250" lengthAdjust="spacingAndGlyphs">OECD</text></g>
<g transform="translate(993,809) scale(0.720)" opacity="0.78"><ellipse cx="50" cy="50" rx="51" ry="50" fill="#9fbbe3"/><path d="M12,38 C18,22 34,20 46,24 L60,20 L56,34 L50,44 L44,56 L36,52 L30,62 L20,66 L16,52 L10,46 Z" fill="#1f4a8d"/><path d="M66,22 C78,22 88,32 92,44 L86,52 L78,46 L76,60 L68,54 L70,38 Z" fill="#1f4a8d"/><path d="M46,64 L58,62 L60,72 L52,78 L46,74 Z" fill="#1f4a8d"/><path d="M84,62 L94,58 L94,72 L88,80 Z" fill="#1f4a8d"/><path d="M108,2 C122,18 132,34 134,44 L134,54 C130,68 120,84 108,98 L113,62 C117,54 118,46 113,36 Z" fill="#9fbbe3"/><path d="M133,2 C147,18 157,34 159,44 L159,54 C155,68 145,84 133,98 L138,62 C142,54 143,46 138,36 Z" fill="#9fbbe3"/><text x="166" y="82" font-size="92" fill="#9fbbe3" stroke="#9fbbe3" stroke-width="3.5" textLength="250" lengthAdjust="spacingAndGlyphs">OCDE</text></g>
<g transform="translate(1520,809) scale(0.720)" opacity="0.78"><ellipse cx="50" cy="50" rx="51" ry="50" fill="#9fbbe3"/><path d="M12,38 C18,22 34,20 46,24 L60,20 L56,34 L50,44 L44,56 L36,52 L30,62 L20,66 L16,52 L10,46 Z" fill="#1f4a8d"/><path d="M66,22 C78,22 88,32 92,44 L86,52 L78,46 L76,60 L68,54 L70,38 Z" fill="#1f4a8d"/><path d="M46,64 L58,62 L60,72 L52,78 L46,74 Z" fill="#1f4a8d"/><path d="M84,62 L94,58 L94,72 L88,80 Z" fill="#1f4a8d"/><path d="M108,2 C122,18 132,34 134,44 L134,54 C130,68 120,84 108,98 L113,62 C117,54 118,46 113,36 Z" fill="#9fbbe3"/><path d="M133,2 C147,18 157,34 159,44 L159,54 C155,68 145,84 133,98 L138,62 C142,54 143,46 138,36 Z" fill="#9fbbe3"/><text x="166" y="82" font-size="92" fill="#9fbbe3" stroke="#9fbbe3" stroke-width="3.5" textLength="250" lengthAdjust="spacingAndGlyphs">OECD</text></g>
</g>
<g transform="translate(622.71,207.57) scale(0.73638)">
<g filter="url(#b6)">
<path d="M830,92 C740,95 660,160 620,250 C585,340 570,450 555,560 C540,660 500,740 450,830 C400,920 385,1020 392,1120 C398,1220 420,1290 440,1350 L1250,1350 L1260,1040 C1320,1010 1360,950 1352,860 C1335,760 1280,660 1235,540 C1200,440 1170,330 1120,250 C1070,160 960,92 830,92 Z" fill="url(#hair1)"/>
<path d="M830,92 C740,95 660,160 620,250 C660,190 740,160 830,160 C930,160 1030,190 1100,280 C1060,170 960,92 830,92 Z" fill="#a98a70"/>
<path d="M120,1360 C150,1200 200,1080 300,1030 L430,990 L640,960 L1060,950 L1270,1030 L1420,990 C1540,1030 1640,1130 1700,1250 L1770,1360 Z" fill="#0a0c19"/>
<path d="M560,640 C520,760 450,850 415,950 C385,1050 392,1180 440,1360 L665,1360 C640,1260 630,1160 640,1060 C650,980 640,900 620,830 C600,760 580,700 560,640 Z" fill="#d3b899"/>
<path d="M470,900 C440,1000 450,1150 490,1350 L560,1350 C520,1200 500,1050 520,900 Z" fill="#eedcc5" opacity="0.8"/>
<path d="M590,800 C620,900 640,1000 620,1100 C610,1200 640,1290 660,1350 L610,1350 C580,1250 560,1100 580,980 Z" fill="#9d7c62" opacity="0.8"/>
<path d="M1080,620 C1120,700 1060,800 1040,900 C1030,960 1060,1010 1120,1040 L1250,1040 C1320,1010 1360,950 1352,860 C1335,760 1280,660 1235,540 L1140,420 Z" fill="#c9aa8c"/>
<path d="M1180,620 C1240,720 1290,800 1290,900 C1290,960 1260,1000 1220,1030 L1160,1020 C1200,960 1220,880 1200,780 Z" fill="#e0c8ad" opacity="0.85"/>
<path d="M1075,600 C1110,700 1060,820 1045,900 C1040,950 1050,990 1075,1010 L1110,1010 C1090,940 1100,860 1130,760 C1140,690 1110,640 1075,600 Z" fill="#8f6f58" opacity="0.85"/>
<path d="M690,860 L1010,860 L1040,960 L850,1140 L670,980 Z" fill="#dda39b"/>
<path d="M662,978 L705,955 L852,1128 L842,1185 L742,1150 L690,1085 Z" fill="#f3f3f6"/>
<path d="M1042,938 L1052,1000 L1002,1100 L902,1172 L852,1128 L1000,960 Z" fill="#ededf2"/>
<path d="M612,420 C612,270 700,172 835,170 C975,172 1066,270 1064,420 C1064,540 1075,600 1060,690 C1040,790 1000,880 930,935 C880,970 790,970 735,935 C665,880 625,790 605,690 C592,600 612,540 612,420 Z" fill="url(#face1)"/>
</g>
<g filter="url(#b5)">
<path d="M580,395 Q650,365 730,392" fill="none" stroke="#b99478" stroke-width="13"/>
<path d="M880,390 Q955,362 1040,395" fill="none" stroke="#b99478" stroke-width="13"/>
<circle cx="662" cy="488" r="92" fill="#f7d6dc" fill-opacity="0.45"/>
<circle cx="952" cy="486" r="98" fill="#f7d6dc" fill-opacity="0.45"/>
<ellipse cx="1005" cy="505" rx="40" ry="28" fill="#c7a0e6" fill-opacity="0.75"/>
<ellipse cx="640" cy="540" rx="45" ry="22" fill="#fbe6ee" fill-opacity="0.8"/>
<ellipse cx="685" cy="468" rx="42" ry="17" fill="#6c7c9d"/>
<ellipse cx="925" cy="468" rx="42" ry="17" fill="#6c7c9d"/>
<circle cx="662" cy="488" r="94" fill="none" stroke="#9c7d6c" stroke-width="11"/>
<circle cx="952" cy="486" r="100" fill="none" stroke="#9c7d6c" stroke-width="11"/>
<path d="M752,460 Q805,430 856,462" fill="none" stroke="#e9cfc0" stroke-width="10"/>
<circle cx="556" cy="426" r="11" fill="#f6eee8"/>
<path d="M1050,440 L1085,415" stroke="#c9a78f" stroke-width="10"/>
<path d="M760,590 Q775,615 800,600 Q830,618 850,590" fill="none" stroke="#c58683" stroke-width="11"/>
<path d="M800,400 L795,560" stroke="#f7d3cb" stroke-width="22" opacity="0.7"/>
<path d="M700,722 Q800,740 905,722" fill="none" stroke="#b77675" stroke-width="12"/>
<path d="M720,745 Q800,775 890,745" fill="none" stroke="#d79391" stroke-width="12"/>
<ellipse cx="835" cy="945" rx="120" ry="22" fill="#c98f8a" opacity="0.7"/>
</g>
</g>
</g></g>
<rect x="1859.4" y="306.4" width="170.2" height="39.1" rx="8" fill="#161617" fill-opacity="0.81"/>
<text x="1867.7" y="330.5" font-size="22.9" fill="#ffffff" stroke="#ffffff" stroke-width="0.4" textLength="153.3" lengthAdjust="spacingAndGlyphs">Chloe Delaitre</text>
<g transform="translate(1820,330) scale(0.28906)">
<path d="M114.5,58 L2172.5,58 L2172.5,1179 Q2172.5,1221 2130.5,1221 L156.5,1221 Q114.5,1221 114.5,1179 Z" fill="#73dc6e"/>
<path d="M129.5,73 L2157.5,73 L2157.5,1179 Q2157.5,1206 2130.5,1206 L156.5,1206 Q129.5,1206 129.5,1179 Z" fill="#120b12"/>
<g clip-path="url(#c2)">
<rect x="135" y="78" width="2017" height="1122" fill="#fdfdfd"/>
<g filter="url(#b1)">
<g transform="translate(198,140) scale(1.020)"><ellipse cx="50" cy="50" rx="51" ry="50" fill="url(#globe2)"/><path d="M12,38 C18,22 34,20 46,24 L60,20 L56,34 L50,44 L44,56 L36,52 L30,62 L20,66 L16,52 L10,46 Z" fill="#a9c6ea" opacity="0.8"/><path d="M66,22 C78,22 88,32 92,44 L86,52 L78,46 L76,60 L68,54 L70,38 Z" fill="#a9c6ea" opacity="0.8"/><path d="M108,2 C122,18 132,34 134,44 L134,54 C130,68 120,84 108,98 L113,62 C117,54 118,46 113,36 Z" fill="#4a4a4c"/><path d="M133,2 C147,18 157,34 159,44 L159,54 C155,68 145,84 133,98 L138,62 C142,54 143,46 138,36 Z" fill="#4a4a4c"/><path d="M108,2 C118,14 126,26 130,34 L120,40 Z" fill="#a9b832"/><path d="M133,2 C143,14 151,26 155,34 L145,40 Z" fill="#a9b832"/><text x="166" y="82" font-size="92" fill="#3d3d3f" stroke="#3d3d3f" stroke-width="2.5" textLength="250" lengthAdjust="spacingAndGlyphs">OECD</text><text x="-2" y="128" font-size="21" fill="#77777a" textLength="420" lengthAdjust="spacingAndGlyphs">BETTER POLICIES FOR BETTER LIVES</text></g>
<g transform="translate(1665,140) scale(1.020)"><ellipse cx="50" cy="50" rx="51" ry="50" fill="url(#globe2)"/><path d="M12,38 C18,22 34,20 46,24 L60,20 L56,34 L50,44 L44,56 L36,52 L30,62 L20,66 L16,52 L10,46 Z" fill="#a9c6ea" opacity="0.8"/><path d="M66,22 C78,22 88,32 92,44 L86,52 L78,46 L76,60 L68,54 L70,38 Z" fill="#a9c6ea" opacity="0.8"/><path d="M108,2 C122,18 132,34 134,44 L134,54 C130,68 120,84 108,98 L113,62 C117,54 118,46 113,36 Z" fill="#4a4a4c"/><path d="M133,2 C147,18 157,34 159,44 L159,54 C155,68 145,84 133,98 L138,62 C142,54 143,46 138,36 Z" fill="#4a4a4c"/><path d="M108,2 C118,14 126,26 130,34 L120,40 Z" fill="#a9b832"/><path d="M133,2 C143,14 151,26 155,34 L145,40 Z" fill="#a9b832"/><text x="166" y="82" font-size="92" fill="#3d3d3f" stroke="#3d3d3f" stroke-width="2.5" textLength="250" lengthAdjust="spacingAndGlyphs">OCDE</text><text x="-2" y="126" font-size="20" fill="#8a8a8d" textLength="420" lengthAdjust="spacingAndGlyphs">DES POLITIQUES MEILLEURES</text><text x="-2" y="152" font-size="20" fill="#8a8a8d" textLength="420" lengthAdjust="spacingAndGlyphs">POUR UNE VIE MEILLEURE</text></g>
</g>
<g filter="url(#b2)">
<g transform="translate(203,414) scale(0.720)" opacity="0.85"><ellipse cx="50" cy="50" rx="51" ry="50" fill="#6d86ad"/><path d="M12,38 C18,22 34,20 46,24 L60,20 L56,34 L50,44 L44,56 L36,52 L30,62 L20,66 L16,52 L10,46 Z" fill="#c9d6ea" opacity="0.8"/><path d="M66,22 C78,22 88,32 92,44 L86,52 L78,46 L76,60 L68,54 L70,38 Z" fill="#c9d6ea" opacity="0.8"/><path d="M108,2 C122,18 132,34 134,44 L134,54 C130,68 120,84 108,98 L113,62 C117,54 118,46 113,36 Z" fill="#7d8fab"/><path d="M133,2 C147,18 157,34 159,44 L159,54 C155,68 145,84 133,98 L138,62 C142,54 143,46 138,36 Z" fill="#7d8fab"/><text x="166" y="82" font-size="92" fill="#6f84a3" stroke="#6f84a3" stroke-width="2.5" textLength="250" lengthAdjust="spacingAndGlyphs">OECD</text></g>
<g transform="translate(730,414) scale(0.720)" opacity="0.85"><ellipse cx="50" cy="50" rx="51" ry="50" fill="#6d86ad"/><path d="M12,38 C18,22 34,20 46,24 L60,20 L56,34 L50,44 L44,56 L36,52 L30,62 L20,66 L16,52 L10,46 Z" fill="#c9d6ea" opacity="0.8"/><path d="M66,22 C78,22 88,32 92,44 L86,52 L78,46 L76,60 L68,54 L70,38 Z" fill="#c9d6ea" opacity="0.8"/><path d="M108,2 C122,18 132,34 134,44 L134,54 C130,68 120,84 108,98 L113,62 C117,54 118,46 113,36 Z" fill="#7d8fab"/><path d="M133,2 C147,18 157,34 159,44 L159,54 C155,68 145,84 133,98 L138,62 C142,54 143,46 138,36 Z" fill="#7d8fab"/><text x="166" y="82" font-size="92" fill="#6f84a3" stroke="#6f84a3" stroke-width="2.5" textLength="250" lengthAdjust="spacingAndGlyphs">OCDE</text></g>
<g transform="translate(1258,414) scale(0.720)" opacity="0.85"><ellipse cx="50" cy="50" rx="51" ry="50" fill="#6d86ad"/><path d="M12,38 C18,22 34,20 46,24 L60,20 L56,34 L50,44 L44,56 L36,52 L30,62 L20,66 L16,52 L10,46 Z" fill="#c9d6ea" opacity="0.8"/><path d="M66,22 C78,22 88,32 92,44 L86,52 L78,46 L76,60 L68,54 L70,38 Z" fill="#c9d6ea" opacity="0.8"/><path d="M108,2 C122,18 132,34 134,44 L134,54 C130,68 120,84 108,98 L113,62 C117,54 118,46 113,36 Z" fill="#7d8fab"/><path d="M133,2 C147,18 157,34 159,44 L159,54 C155,68 145,84 133,98 L138,62 C142,54 143,46 138,36 Z" fill="#7d8fab"/><text x="166" y="82" font-size="92" fill="#6f84a3" stroke="#6f84a3" stroke-width="2.5" textLength="250" lengthAdjust="spacingAndGlyphs">OECD</text></g>
<g transform="translate(1785,414) scale(0.720)" opacity="0.85"><ellipse cx="50" cy="50" rx="51" ry="50" fill="#6d86ad"/><path d="M12,38 C18,22 34,20 46,24 L60,20 L56,34 L50,44 L44,56 L36,52 L30,62 L20,66 L16,52 L10,46 Z" fill="#c9d6ea" opacity="0.8"/><path d="M66,22 C78,22 88,32 92,44 L86,52 L78,46 L76,60 L68,54 L70,38 Z" fill="#c9d6ea" opacity="0.8"/><path d="M108,2 C122,18 132,34 134,44 L134,54 C130,68 120,84 108,98 L113,62 C117,54 118,46 113,36 Z" fill="#7d8fab"/><path d="M133,2 C147,18 157,34 159,44 L159,54 C155,68 145,84 133,98 L138,62 C142,54 143,46 138,36 Z" fill="#7d8fab"/><text x="166" y="82" font-size="92" fill="#6f84a3" stroke="#6f84a3" stroke-width="2.5" textLength="250" lengthAdjust="spacingAndGlyphs">OCDE</text></g>
<g transform="translate(465,549) scale(0.720)" opacity="0.85"><ellipse cx="50" cy="50" rx="51" ry="50" fill="#6d86ad"/><path d="M12,38 C18,22 34,20 46,24 L60,20 L56,34 L50,44 L44,56 L36,52 L30,62 L20,66 L16,52 L10,46 Z" fill="#c9d6ea" opacity="0.8"/><path d="M66,22 C78,22 88,32 92,44 L86,52 L78,46 L76,60 L68,54 L70,38 Z" fill="#c9d6ea" opacity="0.8"/><path d="M108,2 C122,18 132,34 134,44 L134,54 C130,68 120,84 108,98 L113,62 C117,54 118,46 113,36 Z" fill="#7d8fab"/><path d="M133,2 C147,18 157,34 159,44 L159,54 C155,68 145,84 133,98 L138,62 C142,54 143,46 138,36 Z" fill="#7d8fab"/><text x="166" y="82" font-size="92" fill="#6f84a3" stroke="#6f84a3" stroke-width="2.5" textLength="250" lengthAdjust="spacingAndGlyphs">OCDE</text></g>
<g transform="translate(993,549) scale(0.720)" opacity="0.85"><ellipse cx="50" cy="50" rx="51" ry="50" fill="#6d86ad"/><path d="M12,38 C18,22 34,20 46,24 L60,20 L56,34 L50,44 L44,56 L36,52 L30,62 L20,66 L16,52 L10,46 Z" fill="#c9d6ea" opacity="0.8"/><path d="M66,22 C78,22 88,32 92,44 L86,52 L78,46 L76,60 L68,54 L70,38 Z" fill="#c9d6ea" opacity="0.8"/><path d="M108,2 C122,18 132,34 134,44 L134,54 C130,68 120,84 108,98 L113,62 C117,54 118,46 113,36 Z" fill="#7d8fab"/><path d="M133,2 C147,18 157,34 159,44 L159,54 C155,68 145,84 133,98 L138,62 C142,54 143,46 138,36 Z" fill="#7d8fab"/><text x="166" y="82" font-size="92" fill="#6f84a3" stroke="#6f84a3" stroke-width="2.5" textLength="250" lengthAdjust="spacingAndGlyphs">OECD</text></g>
<g transform="translate(1520,549) scale(0.720)" opacity="0.85"><ellipse cx="50" cy="50" rx="51" ry="50" fill="#6d86ad"/><path d="M12,38 C18,22 34,20 46,24 L60,20 L56,34 L50,44 L44,56 L36,52 L30,62 L20,66 L16,52 L10,46 Z" fill="#c9d6ea" opacity="0.8"/><path d="M66,22 C78,22 88,32 92,44 L86,52 L78,46 L76,60 L68,54 L70,38 Z" fill="#c9d6ea" opacity="0.8"/><path d="M108,2 C122,18 132,34 134,44 L134,54 C130,68 120,84 108,98 L113,62 C117,54 118,46 113,36 Z" fill="#7d8fab"/><path d="M133,2 C147,18 157,34 159,44 L159,54 C155,68 145,84 133,98 L138,62 C142,54 143,46 138,36 Z" fill="#7d8fab"/><text x="166" y="82" font-size="92" fill="#6f84a3" stroke="#6f84a3" stroke-width="2.5" textLength="250" lengthAdjust="spacingAndGlyphs">OCDE</text></g>
<g transform="translate(203,682) scale(0.720)" opacity="0.85"><ellipse cx="50" cy="50" rx="51" ry="50" fill="#6d86ad"/><path d="M12,38 C18,22 34,20 46,24 L60,20 L56,34 L50,44 L44,56 L36,52 L30,62 L20,66 L16,52 L10,46 Z" fill="#c9d6ea" opacity="0.8"/><path d="M66,22 C78,22 88,32 92,44 L86,52 L78,46 L76,60 L68,54 L70,38 Z" fill="#c9d6ea" opacity="0.8"/><path d="M108,2 C122,18 132,34 134,44 L134,54 C130,68 120,84 108,98 L113,62 C117,54 118,46 113,36 Z" fill="#7d8fab"/><path d="M133,2 C147,18 157,34 159,44 L159,54 C155,68 145,84 133,98 L138,62 C142,54 143,46 138,36 Z" fill="#7d8fab"/><text x="166" y="82" font-size="92" fill="#6f84a3" stroke="#6f84a3" stroke-width="2.5" textLength="250" lengthAdjust="spacingAndGlyphs">OCDE</text></g>
<g transform="translate(730,682) scale(0.720)" opacity="0.85"><ellipse cx="50" cy="50" rx="51" ry="50" fill="#6d86ad"/><path d="M12,38 C18,22 34,20 46,24 L60,20 L56,34 L50,44 L44,56 L36,52 L30,62 L20,66 L16,52 L10,46 Z" fill="#c9d6ea" opacity="0.8"/><path d="M66,22 C78,22 88,32 92,44 L86,52 L78,46 L76,60 L68,54 L70,38 Z" fill="#c9d6ea" opacity="0.8"/><path d="M108,2 C122,18 132,34 134,44 L134,54 C130,68 120,84 108,98 L113,62 C117,54 118,46 113,36 Z" fill="#7d8fab"/><path d="M133,2 C147,18 157,34 159,44 L159,54 C155,68 145,84 133,98 L138,62 C142,54 143,46 138,36 Z" fill="#7d8fab"/><text x="166" y="82" font-size="92" fill="#6f84a3" stroke="#6f84a3" stroke-width="2.5" textLength="250" lengthAdjust="spacingAndGlyphs">OECD</text></g>
<g transform="translate(1258,682) scale(0.720)" opacity="0.85"><ellipse cx="50" cy="50" rx="51" ry="50" fill="#6d86ad"/><path d="M12,38 C18,22 34,20 46,24 L60,20 L56,34 L50,44 L44,56 L36,52 L30,62 L20,66 L16,52 L10,46 Z" fill="#c9d6ea" opacity="0.8"/><path d="M66,22 C78,22 88,32 92,44 L86,52 L78,46 L76,60 L68,54 L70,38 Z" fill="#c9d6ea" opacity="0.8"/><path d="M108,2 C122,18 132,34 134,44 L134,54 C130,68 120,84 108,98 L113,62 C117,54 118,46 113,36 Z" fill="#7d8fab"/><path d="M133,2 C147,18 157,34 159,44 L159,54 C155,68 145,84 133,98 L138,62 C142,54 143,46 138,36 Z" fill="#7d8fab"/><text x="166" y="82" font-size="92" fill="#6f84a3" stroke="#6f84a3" stroke-width="2.5" textLength="250" lengthAdjust="spacingAndGlyphs">OCDE</text></g>
<g transform="translate(1785,682) scale(0.720)" opacity="0.85"><ellipse cx="50" cy="50" rx="51" ry="50" fill="#6d86ad"/><path d="M12,38 C18,22 34,20 46,24 L60,20 L56,34 L50,44 L44,56 L36,52 L30,62 L20,66 L16,52 L10,46 Z" fill="#c9d6ea" opacity="0.8"/><path d="M66,22 C78,22 88,32 92,44 L86,52 L78,46 L76,60 L68,54 L70,38 Z" fill="#c9d6ea" opacity="0.8"/><path d="M108,2 C122,18 132,34 134,44 L134,54 C130,68 120,84 108,98 L113,62 C117,54 118,46 113,36 Z" fill="#7d8fab"/><path d="M133,2 C147,18 157,34 159,44 L159,54 C155,68 145,84 133,98 L138,62 C142,54 143,46 138,36 Z" fill="#7d8fab"/><text x="166" y="82" font-size="92" fill="#6f84a3" stroke="#6f84a3" stroke-width="2.5" textLength="250" lengthAdjust="spacingAndGlyphs">OECD</text></g>
<g transform="translate(465,816) scale(0.720)" opacity="0.85"><ellipse cx="50" cy="50" rx="51" ry="50" fill="#6d86ad"/><path d="M12,38 C18,22 34,20 46,24 L60,20 L56,34 L50,44 L44,56 L36,52 L30,62 L20,66 L16,52 L10,46 Z" fill="#c9d6ea" opacity="0.8"/><path d="M66,22 C78,22 88,32 92,44 L86,52 L78,46 L76,60 L68,54 L70,38 Z" fill="#c9d6ea" opacity="0.8"/><path d="M108,2 C122,18 132,34 134,44 L134,54 C130,68 120,84 108,98 L113,62 C117,54 118,46 113,36 Z" fill="#7d8fab"/><path d="M133,2 C147,18 157,34 159,44 L159,54 C155,68 145,84 133,98 L138,62 C142,54 143,46 138,36 Z" fill="#7d8fab"/><text x="166" y="82" font-size="92" fill="#6f84a3" stroke="#6f84a3" stroke-width="2.5" textLength="250" lengthAdjust="spacingAndGlyphs">OECD</text></g>
<g transform="translate(993,816) scale(0.720)" opacity="0.85"><ellipse cx="50" cy="50" rx="51" ry="50" fill="#6d86ad"/><path d="M12,38 C18,22 34,20 46,24 L60,20 L56,34 L50,44 L44,56 L36,52 L30,62 L20,66 L16,52 L10,46 Z" fill="#c9d6ea" opacity="0.8"/><path d="M66,22 C78,22 88,32 92,44 L86,52 L78,46 L76,60 L68,54 L70,38 Z" fill="#c9d6ea" opacity="0.8"/><path d="M108,2 C122,18 132,34 134,44 L134,54 C130,68 120,84 108,98 L113,62 C117,54 118,46 113,36 Z" fill="#7d8fab"/><path d="M133,2 C147,18 157,34 159,44 L159,54 C155,68 145,84 133,98 L138,62 C142,54 143,46 138,36 Z" fill="#7d8fab"/><text x="166" y="82" font-size="92" fill="#6f84a3" stroke="#6f84a3" stroke-width="2.5" textLength="250" lengthAdjust="spacingAndGlyphs">OCDE</text></g>
<g transform="translate(1520,816) scale(0.720)" opacity="0.85"><ellipse cx="50" cy="50" rx="51" ry="50" fill="#6d86ad"/><path d="M12,38 C18,22 34,20 46,24 L60,20 L56,34 L50,44 L44,56 L36,52 L30,62 L20,66 L16,52 L10,46 Z" fill="#c9d6ea" opacity="0.8"/><path d="M66,22 C78,22 88,32 92,44 L86,52 L78,46 L76,60 L68,54 L70,38 Z" fill="#c9d6ea" opacity="0.8"/><path d="M108,2 C122,18 132,34 134,44 L134,54 C130,68 120,84 108,98 L113,62 C117,54 118,46 113,36 Z" fill="#7d8fab"/><path d="M133,2 C147,18 157,34 159,44 L159,54 C155,68 145,84 133,98 L138,62 C142,54 143,46 138,36 Z" fill="#7d8fab"/><text x="166" y="82" font-size="92" fill="#6f84a3" stroke="#6f84a3" stroke-width="2.5" textLength="250" lengthAdjust="spacingAndGlyphs">OECD</text></g>
</g>
<g transform="translate(484.33,207.57) scale(0.73638)">
<g filter="url(#b6)">
<path d="M100,1360 C120,1220 170,1090 250,1000 C320,930 440,900 560,880 L735,828 L1110,848 L1300,930 C1380,950 1480,955 1560,1010 C1640,1090 1690,1220 1725,1360 Z" fill="url(#suit2)"/>
<path d="M735,828 L720,1360 L1165,1360 L1110,848 Z" fill="#cde2f7"/>
<path d="M740,830 L760,960 L830,1010 L920,1105 L1000,1020 L1090,960 L1108,850 L920,900 Z" fill="#dcebfa"/>
<path d="M905,1100 L935,1100 L960,1360 L900,1360 Z" fill="#bdd5ee" opacity="0.8"/>
<path d="M600,905 L735,828 L722,1360 L640,1360 C650,1200 640,1050 600,905 Z" fill="#151c35"/>
<path d="M1110,848 L1215,900 C1200,1060 1190,1200 1180,1360 L1165,1360 Z" fill="#151c35"/>
<path d="M790,780 L1050,780 L1090,900 L920,1060 L770,900 Z" fill="#d39783"/>
<path d="M640,330 C630,200 740,72 900,68 C1050,70 1150,190 1162,330 L1160,490 L1120,500 L1085,340 L1020,250 L900,212 L762,240 L705,330 L680,450 L660,450 Z" fill="#4f3a30"/>
<ellipse cx="1148" cy="490" rx="26" ry="48" fill="#dba08f"/>
<path d="M668,440 C668,380 700,330 760,250 C810,215 990,215 1030,255 C1080,330 1125,380 1128,470 C1130,600 1110,720 1070,790 C1030,870 970,912 900,912 C820,910 760,860 722,780 C690,700 668,560 668,440 Z" fill="url(#face2)"/>
<path d="M700,700 C720,790 770,880 840,905 C900,920 970,905 1020,860 C1070,800 1100,730 1110,660 C1080,740 1030,800 980,820 C920,840 860,840 800,810 C750,780 720,740 700,700 Z" fill="#b38b79" opacity="0.9"/>
</g>
<g filter="url(#b5)">
<path d="M682,452 Q740,425 800,445" fill="none" stroke="#4d362b" stroke-width="20"/>
<path d="M900,400 Q975,370 1050,398" fill="none" stroke="#4d362b" stroke-width="20"/>
<ellipse cx="745" cy="470" rx="38" ry="13" fill="#4a3028"/>
<ellipse cx="978" cy="450" rx="42" ry="14" fill="#4a3028"/>
<path d="M850,470 L835,580" stroke="#f6cfc0" stroke-width="26" opacity="0.8"/>
<path d="M800,590 Q850,620 905,588" fill="none" stroke="#b98070" stroke-width="14"/>
<path d="M770,700 C820,680 940,680 980,700 C960,790 800,800 770,700 Z" fill="#d98b8b"/>
<path d="M800,705 C850,690 920,690 955,705 C930,745 830,750 800,705 Z" fill="#a85a5e"/>
<path d="M735,700 C770,650 830,628 900,628 C960,628 1000,645 1015,668 L1000,700 C960,672 900,668 860,672 C810,678 770,700 745,722 Z" fill="#5a3e30"/>
<ellipse cx="735" cy="590" rx="40" ry="55" fill="#f0a8a0" opacity="0.6"/>
<ellipse cx="1040" cy="580" rx="40" ry="55" fill="#f0a8a0" opacity="0.6"/>
</g>
</g>
<path d="M135,1210 L135,1092 Q135,1068 159,1068 L1024,1068 Q1048,1068 1048,1092 L1048,1176 Q1048,1200 1024,1200 L135,1200 Z" fill="#161617" fill-opacity="0.81"/>
</g></g>
<text x="1867.7" y="662.0" font-size="22.9" fill="#ffffff" stroke="#ffffff" stroke-width="0.4" textLength="246.6" lengthAdjust="spacingAndGlyphs">Néstor Pelechà Aigües</text>
<g transform="translate(1820,770) scale(0.28906)"><g clip-path="url(#cg)">
<g clip-path="url(#cA)">
<g transform="translate(62.27,62.27) scale(0.45204)">
<rect x="-10" y="-10" width="2420" height="1380" fill="url(#gA2)"/>
<ellipse cx="150" cy="1150" rx="500" ry="350" fill="#566590" opacity="0.55" filter="url(#b25)"/>
<ellipse cx="2300" cy="700" rx="300" ry="500" fill="#5a6a96" opacity="0.5" filter="url(#b25)"/>
<g filter="url(#b6)">
<g transform="translate(600,165)"><circle cx="0" cy="0" r="58" fill="#fbfaf2"/><path d="M-30,10 C-20,-20 10,-30 30,-5 C40,15 20,40 -5,40 C-20,38 -32,28 -30,10 Z" fill="#f1e9bf"/><path d="M-38,-8 C-28,-30 -5,-36 12,-30 L4,-12 L-12,4 L-28,10 Z" fill="#aab4c8" opacity="0.75"/><path d="M62,-58 L100,-6 L100,8 L62,58 L68,12 L80,0 L68,-16 Z" fill="#ffffff"/><path d="M96,-58 L134,-6 L134,8 L96,58 L102,12 L114,0 L102,-16 Z" fill="#ffffff"/><text x="135" y="40" font-size="106" fill="#ffffff" stroke="#ffffff" stroke-width="3" textLength="276" lengthAdjust="spacingAndGlyphs">OECD</text></g>
<g transform="translate(1990,155)"><circle cx="0" cy="0" r="58" fill="#fbfaf2"/><path d="M-30,10 C-20,-20 10,-30 30,-5 C40,15 20,40 -5,40 C-20,38 -32,28 -30,10 Z" fill="#f1e9bf"/><path d="M-38,-8 C-28,-30 -5,-36 12,-30 L4,-12 L-12,4 L-28,10 Z" fill="#aab4c8" opacity="0.75"/><path d="M62,-58 L100,-6 L100,8 L62,58 L68,12 L80,0 L68,-16 Z" fill="#ffffff"/><path d="M96,-58 L134,-6 L134,8 L96,58 L102,12 L114,0 L102,-16 Z" fill="#ffffff"/><text x="135" y="40" font-size="106" fill="#ffffff" stroke="#ffffff" stroke-width="3" textLength="276" lengthAdjust="spacingAndGlyphs">OECD</text></g>
<g transform="translate(260,485)"><circle cx="0" cy="0" r="58" fill="#fbfaf2"/><path d="M-30,10 C-20,-20 10,-30 30,-5 C40,15 20,40 -5,40 C-20,38 -32,28 -30,10 Z" fill="#f1e9bf"/><path d="M-38,-8 C-28,-30 -5,-36 12,-30 L4,-12 L-12,4 L-28,10 Z" fill="#aab4c8" opacity="0.75"/><path d="M62,-58 L100,-6 L100,8 L62,58 L68,12 L80,0 L68,-16 Z" fill="#ffffff"/><path d="M96,-58 L134,-6 L134,8 L96,58 L102,12 L114,0 L102,-16 Z" fill="#ffffff"/><text x="135" y="40" font-size="106" fill="#ffffff" stroke="#ffffff" stroke-width="3" textLength="276" lengthAdjust="spacingAndGlyphs">OECD</text></g>
<g transform="translate(1640,480)"><circle cx="0" cy="0" r="58" fill="#fbfaf2"/><path d="M-30,10 C-20,-20 10,-30 30,-5 C40,15 20,40 -5,40 C-20,38 -32,28 -30,10 Z" fill="#f1e9bf"/><path d="M-38,-8 C-28,-30 -5,-36 12,-30 L4,-12 L-12,4 L-28,10 Z" fill="#aab4c8" opacity="0.75"/><path d="M62,-58 L100,-6 L100,8 L62,58 L68,12 L80,0 L68,-16 Z" fill="#ffffff"/><path d="M96,-58 L134,-6 L134,8 L96,58 L102,12 L114,0 L102,-16 Z" fill="#ffffff"/><text x="135" y="40" font-size="106" fill="#ffffff" stroke="#ffffff" stroke-width="3" textLength="276" lengthAdjust="spacingAndGlyphs">OECD</text></g>
<g transform="translate(-80,800)"><circle cx="0" cy="0" r="58" fill="#fbfaf2"/><path d="M-30,10 C-20,-20 10,-30 30,-5 C40,15 20,40 -5,40 C-20,38 -32,28 -30,10 Z" fill="#f1e9bf"/><path d="M-38,-8 C-28,-30 -5,-36 12,-30 L4,-12 L-12,4 L-28,10 Z" fill="#aab4c8" opacity="0.75"/><path d="M62,-58 L100,-6 L100,8 L62,58 L68,12 L80,0 L68,-16 Z" fill="#ffffff"/><path d="M96,-58 L134,-6 L134,8 L96,58 L102,12 L114,0 L102,-16 Z" fill="#ffffff"/><text x="135" y="40" font-size="106" fill="#ffffff" stroke="#ffffff" stroke-width="3" textLength="276" lengthAdjust="spacingAndGlyphs">OECD</text></g>
<g transform="translate(1290,800)"><circle cx="0" cy="0" r="58" fill="#fbfaf2"/><path d="M-30,10 C-20,-20 10,-30 30,-5 C40,15 20,40 -5,40 C-20,38 -32,28 -30,10 Z" fill="#f1e9bf"/><path d="M-38,-8 C-28,-30 -5,-36 12,-30 L4,-12 L-12,4 L-28,10 Z" fill="#aab4c8" opacity="0.75"/><path d="M62,-58 L100,-6 L100,8 L62,58 L68,12 L80,0 L68,-16 Z" fill="#ffffff"/><path d="M96,-58 L134,-6 L134,8 L96,58 L102,12 L114,0 L102,-16 Z" fill="#ffffff"/><text x="135" y="40" font-size="106" fill="#ffffff" stroke="#ffffff" stroke-width="3" textLength="276" lengthAdjust="spacingAndGlyphs">OECD</text></g>
<g transform="translate(2340,1105)"><circle cx="0" cy="0" r="58" fill="#fbfaf2"/><path d="M-30,10 C-20,-20 10,-30 30,-5 C40,15 20,40 -5,40 C-20,38 -32,28 -30,10 Z" fill="#f1e9bf"/><path d="M-38,-8 C-28,-30 -5,-36 12,-30 L4,-12 L-12,4 L-28,10 Z" fill="#aab4c8" opacity="0.75"/><path d="M62,-58 L100,-6 L100,8 L62,58 L68,12 L80,0 L68,-16 Z" fill="#ffffff"/><path d="M96,-58 L134,-6 L134,8 L96,58 L102,12 L114,0 L102,-16 Z" fill="#ffffff"/><text x="135" y="40" font-size="106" fill="#ffffff" stroke="#ffffff" stroke-width="3" textLength="276" lengthAdjust="spacingAndGlyphs">OECD</text></g>
<text x="-105" y="163" font-size="44" font-weight="bold" fill="#eef1fb" opacity="0.8" textLength="380" lengthAdjust="spacingAndGlyphs">BETTER POLICIES</text>
<text x="-105" y="213" font-size="44" font-weight="bold" fill="#eef1fb" opacity="0.8" textLength="380" lengthAdjust="spacingAndGlyphs">FOR BETTER LIVES</text>
<text x="1280" y="160" font-size="44" font-weight="bold" fill="#eef1fb" opacity="0.8" textLength="380" lengthAdjust="spacingAndGlyphs">BETTER POLICIES</text>
<text x="1280" y="210" font-size="44" font-weight="bold" fill="#eef1fb" opacity="0.8" textLength="380" lengthAdjust="spacingAndGlyphs">FOR BETTER LIVES</text>
<text x="935" y="476" font-size="44" font-weight="bold" fill="#eef1fb" opacity="0.8" textLength="380" lengthAdjust="spacingAndGlyphs">BETTER POLICIES</text>
<text x="935" y="526" font-size="44" font-weight="bold" fill="#eef1fb" opacity="0.8" textLength="380" lengthAdjust="spacingAndGlyphs">FOR BETTER LIVES</text>
<text x="2330" y="468" font-size="44" font-weight="bold" fill="#eef1fb" opacity="0.8" textLength="380" lengthAdjust="spacingAndGlyphs">BETTER POLICIES</text>
<text x="2330" y="518" font-size="44" font-weight="bold" fill="#eef1fb" opacity="0.8" textLength="380" lengthAdjust="spacingAndGlyphs">FOR BETTER LIVES</text>
<text x="595" y="790" font-size="44" font-weight="bold" fill="#eef1fb" opacity="0.8" textLength="380" lengthAdjust="spacingAndGlyphs">BETTER POLICIES</text>
<text x="595" y="840" font-size="44" font-weight="bold" fill="#eef1fb" opacity="0.8" textLength="380" lengthAdjust="spacingAndGlyphs">FOR BETTER LIVES</text>
<text x="1972" y="783" font-size="44" font-weight="bold" fill="#eef1fb" opacity="0.8" textLength="380" lengthAdjust="spacingAndGlyphs">BETTER POLICIES</text>
<text x="1972" y="833" font-size="44" font-weight="bold" fill="#eef1fb" opacity="0.8" textLength="380" lengthAdjust="spacingAndGlyphs">FOR BETTER LIVES</text>
<text x="1620" y="1098" font-size="44" font-weight="bold" fill="#eef1fb" opacity="0.8" textLength="380" lengthAdjust="spacingAndGlyphs">BETTER POLICIES</text>
<text x="1620" y="1148" font-size="44" font-weight="bold" fill="#eef1fb" opacity="0.8" textLength="380" lengthAdjust="spacingAndGlyphs">FOR BETTER LIVES</text>
</g>
<g filter="url(#b12)">
<path d="M940,1370 L960,1010 C985,950 1100,900 1235,862 L1560,868 C1680,890 1790,915 1850,990 C1930,1100 2050,1250 2120,1370 Z" fill="#14161f"/>
<path d="M1295,890 L1335,1012 L1500,1012 L1545,890 Z" fill="#eef0f4"/>
<path d="M1400,960 L1440,960 L1450,1020 L1395,1020 Z" fill="#23263a"/>
<rect x="1490" y="1015" width="40" height="340" fill="#2c3246"/>
</g><g filter="url(#b6)">
<path d="M1255,690 C1250,560 1310,490 1405,488 C1500,490 1578,560 1574,690 C1570,800 1520,905 1425,915 C1330,905 1262,800 1255,690 Z" fill="#b48a7d"/>
<ellipse cx="1405" cy="610" rx="95" ry="60" fill="#c39888"/>
<path d="M1236,700 C1218,540 1300,428 1402,425 C1512,428 1598,540 1584,700 C1576,610 1548,548 1495,520 C1440,498 1365,498 1322,522 C1275,560 1248,620 1236,700 Z" fill="#2a2321"/>
<path d="M1300,470 C1350,440 1450,440 1510,475 C1470,500 1350,500 1300,470 Z" fill="#3a302c"/>
</g>
<g filter="url(#b9)">
<rect x="1272" y="688" width="130" height="82" rx="36" fill="none" stroke="#4a2c28" stroke-width="11"/>
<rect x="1438" y="686" width="130" height="80" rx="36" fill="none" stroke="#4a2c28" stroke-width="11"/>
<path d="M1402,715 L1438,712" stroke="#4a2c28" stroke-width="9"/>
<ellipse cx="1345" cy="725" rx="30" ry="10" fill="#3a2624"/><ellipse cx="1500" cy="722" rx="30" ry="10" fill="#3a2624"/>
<path d="M1390,880 Q1425,870 1465,882" stroke="#8a5e5a" stroke-width="10" fill="none"/>
</g>
</g>
</g>
<g clip-path="url(#cB)">
<g transform="translate(1134.72,62.27) scale(0.45204)">
<rect x="0" y="-10" width="2420" height="1380" fill="url(#gB2)"/>
<g filter="url(#b25)">
<path d="M480,150 L820,420 L800,1050 L520,1050 Z" fill="#a3a19e" opacity="0.75"/>
<ellipse cx="1000" cy="700" rx="140" ry="380" fill="#c2c0bb" opacity="0.8"/>
<ellipse cx="1200" cy="150" rx="700" ry="120" fill="#cfd0cd" opacity="0.8"/>
<ellipse cx="2150" cy="400" rx="200" ry="50" fill="#979593" opacity="0.7"/>
<ellipse cx="2320" cy="560" rx="50" ry="110" fill="#8d8785" opacity="0.7"/>
<ellipse cx="2100" cy="800" rx="200" ry="300" fill="#c3c1bb" opacity="0.7"/>
<path d="M110,120 C180,60 260,120 300,300 C350,450 360,600 320,800 C290,950 240,1050 160,1050 C60,1050 30,900 40,700 C40,450 60,220 110,120 Z" fill="#ffffff"/>
</g>
<path d="M130,200 C190,160 240,220 270,350 C310,480 310,620 280,780 C260,900 220,980 170,980 C100,980 80,850 85,680 C85,480 95,280 130,200 Z" fill="#ffffff" filter="url(#b12)"/>
<g filter="url(#b12)">
<path d="M1480,268 C1390,272 1300,360 1245,480 C1195,600 1160,760 1135,930 C1120,1000 1090,1040 1060,1080 L1100,1380 L2160,1380 C2100,1300 2000,1250 1910,1160 C1880,1050 1860,900 1830,780 C1800,640 1770,500 1715,410 C1660,320 1580,268 1480,268 Z" fill="#2b2324"/>
<path d="M1850,1220 C1950,1230 2080,1290 2150,1380 L1700,1380 Z" fill="#1c1a1d"/>
<path d="M700,1380 C760,1335 900,1322 1100,1318 L2160,1318 L2160,1380 Z" fill="#15151f"/>
<path d="M1320,900 L1650,900 L1640,1060 L1330,1060 Z" fill="#b08a7a"/>
<path d="M1268,650 C1262,520 1350,385 1485,382 C1620,385 1725,510 1722,650 C1720,780 1690,900 1620,970 C1570,1015 1420,1020 1370,970 C1300,900 1270,780 1268,650 Z" fill="#c9a190"/>
<path d="M1500,400 C1620,410 1720,520 1720,650 C1718,780 1690,900 1620,970 C1590,1000 1540,1012 1500,1015 C1560,900 1580,700 1500,400 Z" fill="#a98575" opacity="0.75"/>
<ellipse cx="1300" cy="660" rx="45" ry="80" fill="#f7e6de" opacity="0.9"/>
<ellipse cx="1440" cy="500" rx="120" ry="70" fill="#d9b3a2" opacity="0.8"/>
</g>
<g filter="url(#b9)">
<path d="M1320,585 Q1390,560 1455,585" stroke="#3a2a26" stroke-width="16" fill="none"/>
<path d="M1540,572 Q1610,545 1680,572" stroke="#3a2a26" stroke-width="16" fill="none"/>
<ellipse cx="1385" cy="625" rx="55" ry="14" fill="#4a3631"/><ellipse cx="1605" cy="612" rx="52" ry="14" fill="#4a3631"/>
<path d="M1440,765 Q1485,790 1535,762" stroke="#8a6356" stroke-width="14" fill="none"/>
<path d="M1400,862 Q1480,845 1565,860" stroke="#8a5a55" stroke-width="15" fill="none"/>
<path d="M1420,885 Q1480,905 1545,885" stroke="#b98277" stroke-width="14" fill="none"/>
</g>
</g>
</g>
<g clip-path="url(#cC)">
<g transform="translate(62.27,664.22) scale(0.45204)">
<rect x="-10" y="0" width="2420" height="1380" fill="url(#gC2)"/>
<rect x="1500" y="5" width="920" height="60" fill="#8e8f8e" opacity="0.8" filter="url(#b12)"/>
<g filter="url(#b25)">
<rect x="2030" y="60" width="120" height="1000" fill="#ffffff"/>
<rect x="2230" y="60" width="130" height="1100" fill="#ffffff"/>
<rect x="2160" y="200" width="60" height="1100" fill="#d2d3d8"/>
<rect x="1960" y="0" width="60" height="700" fill="#cdd0d0"/>


</g>
<g filter="url(#b12)">
<path d="M1850,900 C1950,950 2100,1100 2300,1380 L1700,1380 L1700,1000 Z" fill="#c2a49c"/>
<path d="M1530,183 C1430,190 1320,280 1250,390 C1200,480 1180,600 1170,720 C1160,830 1120,920 1050,1030 L1040,1380 L1250,1380 L1250,700 L1900,700 L1990,800 C2020,860 2040,900 2040,950 L1960,980 L1920,700 C1940,560 1900,420 1830,330 C1760,240 1650,180 1530,183 Z" fill="#1d1c20"/>
<path d="M1525,200 L1555,200 L1580,420 L1545,420 Z" fill="#4a4648" opacity="0.8"/>
<path d="M1195,700 C1200,560 1330,420 1560,400 C1720,410 1850,520 1860,700 C1870,860 1830,1060 1760,1380 L1250,1380 C1200,1150 1180,900 1195,700 Z" fill="#8f675a"/>
<ellipse cx="1610" cy="480" rx="120" ry="70" fill="#a9816f" opacity="0.9"/>
<path d="M1440,820 C1470,800 1520,800 1540,830 L1560,980 C1520,1010 1450,1010 1420,980 Z" fill="#b38b7b" opacity="0.9"/>
<path d="M1250,950 C1350,1000 1650,1020 1780,960 L1760,1380 L1250,1380 Z" fill="#9a5f58" opacity="0.7"/>
<path d="M1825,650 C1860,620 1895,650 1910,720 C1930,800 1960,880 1985,960 C1995,1010 1970,1040 1930,1040 L1660,1030 C1640,990 1700,940 1790,930 C1830,860 1800,720 1825,650 Z" fill="#c59f8f"/>
</g>
<g filter="url(#b9)">
<path d="M1235,660 Q1330,640 1425,710" stroke="#2a1a18" stroke-width="26" fill="none"/>
<path d="M1560,735 Q1680,690 1800,720" stroke="#2a1a18" stroke-width="26" fill="none"/>
<ellipse cx="1325" cy="790" rx="85" ry="30" fill="#241615"/>
<ellipse cx="1665" cy="820" rx="90" ry="32" fill="#241615"/>
<ellipse cx="1325" cy="850" rx="90" ry="30" fill="#6a4238" opacity="0.7"/>
<ellipse cx="1665" cy="880" rx="95" ry="30" fill="#6a4238" opacity="0.7"/>
<circle cx="1838" cy="942" r="14" fill="#e9e4e0"/>
</g>
</g>
</g>
<g clip-path="url(#cD)">
<g transform="translate(1134.72,664.22) scale(0.45204)">
<rect x="0" y="0" width="2420" height="1380" fill="url(#gD2)"/>
<rect x="0" y="0" width="1100" height="1100" fill="url(#topD)"/>
<g filter="url(#b60)">
<ellipse cx="350" cy="950" rx="350" ry="250" fill="#d4d7d4" opacity="0.9"/>
<ellipse cx="2050" cy="700" rx="300" ry="450" fill="#cdd0cb" opacity="0.8"/>
<ellipse cx="2350" cy="200" rx="200" ry="200" fill="#a9aca7" opacity="0.7"/>
</g>
<g filter="url(#b6)" transform="rotate(1.5 400 560)">
<rect x="112" y="440" width="93" height="82" fill="#8a4a42"/>
<rect x="209" y="440" width="93" height="82" fill="#94603f"/>
<rect x="306" y="440" width="93" height="82" fill="#4a4a50"/>
<rect x="403" y="440" width="93" height="82" fill="#8a4a48"/>
<rect x="500" y="440" width="93" height="82" fill="#9a5a3a"/>
<rect x="597" y="440" width="93" height="82" fill="#5a7ab0"/>
<rect x="112" y="526" width="93" height="82" fill="#8a5038"/>
<rect x="209" y="526" width="93" height="82" fill="#2c2c32"/>
<rect x="306" y="526" width="93" height="82" fill="#8a4a38"/>
<rect x="403" y="526" width="93" height="82" fill="#8a5550"/>
<rect x="500" y="526" width="93" height="82" fill="#a05a38"/>
<rect x="597" y="526" width="93" height="82" fill="#a87048"/>
<rect x="112" y="612" width="93" height="82" fill="#3a3f50"/>
<rect x="209" y="612" width="93" height="82" fill="#3a5590"/>
<rect x="306" y="612" width="93" height="82" fill="#4a5560"/>
<rect x="403" y="612" width="93" height="82" fill="#2f4580"/>
<rect x="500" y="612" width="93" height="82" fill="#354878"/>
<rect x="597" y="612" width="93" height="82" fill="#c4c4c2"/>
</g>
<g filter="url(#b6)">
<path d="M918,245 L1530,245 L1600,1030 L925,1030 Z" fill="#d3d5d3"/>
<path d="M918,245 L1530,245 L1532,268 L920,268 Z" fill="#a4a6a4"/>
<rect x="1020" y="290" width="520" height="360" fill="#bab6b4"/>
<rect x="1340" y="300" width="160" height="260" fill="#a2827a"/>
<rect x="1470" y="635" width="92" height="160" fill="#5aa95b"/>
</g>
<g filter="url(#b12)">
<path d="M540,1380 C600,1200 780,1060 960,1010 L1480,1010 C1680,1060 1880,1200 1960,1380 Z" fill="#2b3142"/>
<path d="M915,650 C910,520 1020,400 1190,395 C1360,400 1480,520 1475,650 C1478,800 1450,930 1380,1030 L1020,1030 C950,930 912,800 915,650 Z" fill="#a97a6a"/>
<ellipse cx="1240" cy="520" rx="130" ry="70" fill="#b98a78" opacity="0.9"/>
<ellipse cx="1215" cy="850" rx="80" ry="60" fill="#bc8d7c" opacity="0.9"/>
<path d="M880,640 C860,470 990,312 1180,300 C1370,305 1500,450 1480,650 C1460,560 1400,480 1300,462 C1200,448 1080,462 1010,510 C945,555 910,600 880,640 Z" fill="#2a2727"/>
<path d="M1170,975 L1265,975 L1270,1030 L1165,1030 Z" fill="#3a2a26" opacity="0.8"/>
</g>
<g filter="url(#b9)">
<rect x="950" y="645" width="232" height="140" rx="40" fill="#5a4038" fill-opacity="0.55" stroke="#1a1719" stroke-width="26"/>
<rect x="1256" y="640" width="208" height="140" rx="40" fill="#5a4038" fill-opacity="0.55" stroke="#1a1719" stroke-width="26"/>
<path d="M1182,668 L1256,664" stroke="#1a1719" stroke-width="22"/>
<path d="M1130,925 Q1230,965 1335,915" stroke="#6a4038" stroke-width="16" fill="none"/>
</g>
<rect x="550" y="1322" width="1400" height="30" fill="#262b3a" filter="url(#b6)"/>
<rect x="700" y="1352" width="1000" height="20" fill="#f2f2f2"/>
</g>
</g>
<g clip-path="url(#cE)">
<g transform="translate(62.27,1266.18) scale(0.45204)">
<rect x="-10" y="0" width="2420" height="1380" fill="#d5d5d9"/>
<g filter="url(#b60)">
<ellipse cx="1500" cy="450" rx="600" ry="350" fill="#e0e0e4" opacity="0.9"/>
<ellipse cx="1300" cy="900" rx="500" ry="150" fill="#d5ccd0" opacity="0.8"/>
</g>
<g filter="url(#b6)">
<rect x="20" y="14" width="165" height="88" fill="#c39262"/>
<rect x="200" y="14" width="155" height="88" fill="#58202e"/>
<rect x="370" y="14" width="155" height="88" fill="#b8725f"/>
<rect x="545" y="14" width="150" height="88" fill="#a2405e"/>
<rect x="715" y="14" width="150" height="88" fill="#c98c6b"/>
<rect x="885" y="14" width="145" height="88" fill="#b97c62"/>
<rect x="20" y="112" width="160" height="135" fill="#3a3f40"/>
<rect x="195" y="112" width="155" height="135" fill="#3a4860"/>
<rect x="370" y="112" width="155" height="135" fill="#4b7f42"/>
<rect x="545" y="112" width="150" height="135" fill="#2b3152"/>
<rect x="715" y="112" width="145" height="135" fill="#1f2331"/>
<rect x="885" y="112" width="135" height="135" fill="#a3b1c2"/>
<path d="M580,150 L650,150 L620,200 L660,230 L590,215 Z" fill="#c9cfdc" opacity="0.8"/>
<circle cx="790" cy="200" r="34" fill="none" stroke="#b9bfca" stroke-width="10" opacity="0.8"/>
</g>
<g filter="url(#b12)">
<path d="M-10,230 C60,150 200,110 330,130 C480,150 620,250 710,400 C780,520 800,650 770,780 C750,880 720,960 700,1010 L760,1060 L760,1380 L-10,1380 Z" fill="#1a1718"/>
<path d="M690,420 C760,470 800,560 790,650 C770,600 740,520 690,420 Z" fill="#2a2426"/>
<path d="M560,1010 L740,1000 L770,1380 L-10,1380 L-10,1200 Z" fill="#3d2c26"/>
<path d="M70,640 C70,500 170,400 310,410 C450,425 555,520 550,680 C545,820 470,960 350,1010 C250,1040 120,960 85,800 C72,740 70,700 70,640 Z" fill="#9b6b59"/>
<ellipse cx="310" cy="470" rx="150" ry="55" fill="#a97a68" opacity="0.9"/>
<ellipse cx="320" cy="640" rx="50" ry="60" fill="#c39483" opacity="0.9"/>
<ellipse cx="150" cy="700" rx="60" ry="110" fill="#ab7b69" opacity="0.8"/>
<path d="M90,860 C160,960 300,1010 400,980 C330,1060 150,1040 90,860 Z" fill="#7a5042" opacity="0.9"/>
<path d="M2170,640 C2150,500 2220,350 2330,318 C2370,305 2400,305 2420,310 L2420,520 L2250,520 Z" fill="#2a2325"/>
<path d="M2180,640 C2180,540 2250,470 2340,470 L2420,480 L2420,890 C2330,890 2250,850 2215,780 C2190,730 2180,690 2180,640 Z" fill="#a98279"/>
<path d="M1820,985 C1880,940 2050,900 2230,880 L2420,900 L2420,1380 L1930,1380 C1900,1250 1850,1100 1820,985 Z" fill="#151517"/>
<path d="M1660,1070 C1720,1010 1800,1000 1840,1040 L1940,1380 L1640,1380 Z" fill="#6f4c41"/>
<path d="M2240,880 L2420,900 L2420,1100 C2340,1080 2270,1000 2240,880 Z" fill="#8a675f"/>
</g>
<g filter="url(#b9)">
<path d="M120,520 Q190,495 260,535" stroke="#2a1a18" stroke-width="20" fill="none"/>
<path d="M390,560 Q450,540 520,575" stroke="#2a1a18" stroke-width="20" fill="none"/>
<ellipse cx="195" cy="560" rx="55" ry="16" fill="#2a1a18"/><ellipse cx="455" cy="600" rx="50" ry="16" fill="#2a1a18"/>
<path d="M195,815 C240,780 330,785 385,820 C340,865 240,870 195,815 Z" fill="#4a2022"/>
<path d="M2290,570 Q2340,555 2400,575" stroke="#3a2a2a" stroke-width="16" fill="none"/>
<path d="M2330,735 Q2370,745 2410,735" stroke="#7a4a48" stroke-width="14" fill="none"/>
</g>
<rect x="780" y="1322" width="880" height="30" fill="#d0d0d2" filter="url(#b6)"/>
</g>
</g>
<g clip-path="url(#cF)">
<g transform="translate(1134.72,1266.18) scale(0.45204)">
<rect x="0" y="0" width="2420" height="1380" fill="#232325"/>
<g clip-path="url(#cF2)">
<rect x="703" y="20" width="1004" height="1012" fill="#e9e9ec"/>
<g filter="url(#b6)">
<rect x="703" y="20" width="760" height="118" fill="#ececef"/>
<ellipse cx="1050" cy="60" rx="200" ry="40" fill="#ffffff"/>
<path d="M703,135 L1460,148 L1458,272 L1330,275 Q1290,320 1250,282 L1190,282 Q1150,320 1110,280 L1040,280 Q1000,318 960,276 L900,276 Q860,316 830,272 L770,272 Q740,312 703,300 Z" fill="#875a50"/>
<path d="M703,135 L1460,148 L1460,200 L703,185 Z" fill="#7b4f47"/>
<rect x="1270" y="300" width="195" height="560" fill="#2b3142"/>
<path d="M1330,300 L1460,300 L1460,420 L1330,380 Z" fill="#6a5a55"/>
<path d="M1380,560 C1420,480 1470,470 1490,540 C1520,600 1500,700 1470,760 L1400,700 Z" fill="#4a6a45" opacity="0.9"/>
<rect x="1395" y="330" width="10" height="520" fill="#b9b4a8"/>
<rect x="703" y="470" width="330" height="560" fill="#dcd7d2"/>
<rect x="703" y="490" width="330" height="14" fill="#a59a92" opacity="0.8"/>
<rect x="703" y="530" width="330" height="14" fill="#a59a92" opacity="0.8"/>
<rect x="703" y="570" width="330" height="14" fill="#a59a92" opacity="0.8"/>
<rect x="703" y="610" width="330" height="14" fill="#a59a92" opacity="0.8"/>
<rect x="703" y="650" width="330" height="14" fill="#a59a92" opacity="0.8"/>
<rect x="703" y="690" width="330" height="14" fill="#a59a92" opacity="0.8"/>
<rect x="703" y="730" width="330" height="14" fill="#a59a92" opacity="0.8"/>
<rect x="703" y="770" width="330" height="14" fill="#a59a92" opacity="0.8"/>
<rect x="703" y="810" width="330" height="14" fill="#a59a92" opacity="0.8"/>
<rect x="703" y="850" width="330" height="14" fill="#a59a92" opacity="0.8"/>
<rect x="703" y="890" width="330" height="14" fill="#a59a92" opacity="0.8"/>
<rect x="703" y="930" width="330" height="14" fill="#a59a92" opacity="0.8"/>
<rect x="703" y="970" width="330" height="14" fill="#a59a92" opacity="0.8"/>
<rect x="703" y="1010" width="330" height="14" fill="#a59a92" opacity="0.8"/>
<rect x="1150" y="470" width="185" height="230" fill="#ecebea"/>
<rect x="1150" y="490" width="185" height="12" fill="#b5aea8" opacity="0.7"/>
<rect x="1150" y="528" width="185" height="12" fill="#b5aea8" opacity="0.7"/>
<rect x="1150" y="566" width="185" height="12" fill="#b5aea8" opacity="0.7"/>
<rect x="1150" y="604" width="185" height="12" fill="#b5aea8" opacity="0.7"/>
<rect x="1150" y="642" width="185" height="12" fill="#b5aea8" opacity="0.7"/>
<rect x="1150" y="680" width="185" height="12" fill="#b5aea8" opacity="0.7"/>
<path d="M703,300 L800,270 L1335,280 C1270,420 1180,560 1100,700 C1050,790 1000,850 960,890 L930,890 C900,760 830,560 703,420 Z" fill="#f6f6f6"/>
<path d="M820,280 L960,880 M1000,280 L950,880 M1180,280 L960,880" stroke="#dcdcde" stroke-width="12" fill="none"/>
<path d="M703,420 C800,560 880,760 930,890 L900,1032 L703,1032 Z" fill="#eeeceb" opacity="0.55"/>
<rect x="1462" y="20" width="245" height="1012" fill="#ebecee"/>
<path d="M1545,215 L1640,40 L1707,40 L1707,640 L1610,700 Z" fill="#f4f5f6" stroke="#c6c8cc" stroke-width="8"/>
<rect x="1462" y="20" width="30" height="1012" fill="#dcdde0" opacity="0.7"/>
<rect x="1340" y="842" width="112" height="120" fill="#3b79c2"/>
<rect x="1335" y="962" width="165" height="40" fill="#d9c3aa"/>
<path d="M930,870 C960,860 1000,880 1000,920 L985,990 L955,930 L915,985 Z" fill="#7b3129"/>
<path d="M760,1032 C790,995 900,985 1030,995 L1030,1040 Z" fill="#4b6ba2"/>
<path d="M1320,1032 C1360,1005 1430,1000 1485,1010 L1490,1040 Z" fill="#4b6ba2"/>
<path d="M1008,900 C1000,770 1080,668 1180,664 C1285,668 1350,770 1342,900 L1335,1040 L1015,1040 Z" fill="#2a2c36"/>
<path d="M1032,900 C1060,850 1300,850 1322,900 L1322,1040 L1030,1040 Z" fill="#5a3b2c"/>
<path d="M1040,965 L1315,965" stroke="#2a1c18" stroke-width="12"/>
</g>
</g>
<rect x="703" y="1328" width="1004" height="40" fill="#85868a"/>
<rect x="703" y="1332" width="905" height="40" fill="#14151a"/>
</g>
</g>
</g></g>
<rect x="1843.8" y="921.8" width="190.3" height="37.8" rx="6.5" fill="#161617" fill-opacity="0.81"/>
<g fill="#d93d30" stroke="none"><rect x="1854.5" y="928.8" width="9.8" height="18.5" rx="4.7"/><rect x="1858.2" y="946.8" width="2.4" height="4.4"/><rect x="1854.4" y="950.6" width="10" height="2.2"/></g>
<line x1="1848.8" y1="954.2" x2="1872.6" y2="930.0" stroke="#242426" stroke-width="3.4"/>
<line x1="1847.1" y1="953.5" x2="1871.7" y2="928.5" stroke="#d93d30" stroke-width="1.9"/>
<text x="1883.8" y="946.0" font-size="22.9" fill="#ffffff" stroke="#ffffff" stroke-width="0.4" textLength="139.6" lengthAdjust="spacingAndGlyphs">Rolf Schwarz</text>
<rect x="2154.8" y="921.8" width="222.6" height="37.8" rx="6.5" fill="#161617" fill-opacity="0.81"/>
<g fill="#d93d30" stroke="none"><rect x="2165.5" y="928.8" width="9.8" height="18.5" rx="4.7"/><rect x="2169.2" y="946.8" width="2.4" height="4.4"/><rect x="2165.4" y="950.6" width="10" height="2.2"/></g>
<line x1="2159.8" y1="954.2" x2="2183.6" y2="930.0" stroke="#242426" stroke-width="3.4"/>
<line x1="2158.1" y1="953.5" x2="2182.7" y2="928.5" stroke="#d93d30" stroke-width="1.9"/>
<text x="2193.8" y="946.0" font-size="22.9" fill="#ffffff" stroke="#ffffff" stroke-width="0.4" textLength="173.5" lengthAdjust="spacingAndGlyphs">Isabella Ventura</text>
<rect x="1843.8" y="1096.2" width="248.0" height="37.8" rx="6.5" fill="#161617" fill-opacity="0.81"/>
<g fill="#d93d30" stroke="none"><rect x="1854.5" y="1103.2" width="9.8" height="18.5" rx="4.7"/><rect x="1858.2" y="1121.2" width="2.4" height="4.4"/><rect x="1854.4" y="1125.0" width="10" height="2.2"/></g>
<line x1="1848.8" y1="1128.6" x2="1872.6" y2="1104.4" stroke="#242426" stroke-width="3.4"/>
<line x1="1847.1" y1="1127.9" x2="1871.7" y2="1102.9" stroke="#d93d30" stroke-width="1.9"/>
<text x="1883.8" y="1120.4" font-size="22.9" fill="#ffffff" stroke="#ffffff" stroke-width="0.4" textLength="198.4" lengthAdjust="spacingAndGlyphs">Agustina Baigorria</text>
<rect x="2154.8" y="1096.2" width="302.1" height="37.8" rx="6.5" fill="#161617" fill-opacity="0.81"/>
<g fill="#d93d30" stroke="none"><rect x="2165.5" y="1103.2" width="9.8" height="18.5" rx="4.7"/><rect x="2169.2" y="1121.2" width="2.4" height="4.4"/><rect x="2165.4" y="1125.0" width="10" height="2.2"/></g>
<line x1="2159.8" y1="1128.6" x2="2183.6" y2="1104.4" stroke="#242426" stroke-width="3.4"/>
<line x1="2158.1" y1="1127.9" x2="2182.7" y2="1102.9" stroke="#d93d30" stroke-width="1.9"/>
<text x="2193.8" y="1120.4" font-size="22.9" fill="#ffffff" stroke="#ffffff" stroke-width="0.4" textLength="242.0" lengthAdjust="spacingAndGlyphs">José María Pabón (S...</text>
<rect x="1843.8" y="1270.6" width="213.2" height="37.8" rx="6.5" fill="#161617" fill-opacity="0.81"/>
<g fill="#d93d30" stroke="none"><rect x="1854.5" y="1277.6" width="9.8" height="18.5" rx="4.7"/><rect x="1858.2" y="1295.6" width="2.4" height="4.4"/><rect x="1854.4" y="1299.4" width="10" height="2.2"/></g>
<line x1="1848.8" y1="1303.0" x2="1872.6" y2="1278.8" stroke="#242426" stroke-width="3.4"/>
<line x1="1847.1" y1="1302.3" x2="1871.7" y2="1277.3" stroke="#d93d30" stroke-width="1.9"/>
<text x="1883.8" y="1294.8" font-size="22.9" fill="#ffffff" stroke="#ffffff" stroke-width="0.4" textLength="163.2" lengthAdjust="spacingAndGlyphs">Lorena Romera</text>
<g fill="#d93d30" stroke="none"><rect x="2165.5" y="1277.6" width="9.8" height="18.5" rx="4.7"/><rect x="2169.2" y="1295.6" width="2.4" height="4.4"/><rect x="2165.4" y="1299.4" width="10" height="2.2"/></g>
<line x1="2159.8" y1="1303.0" x2="2183.6" y2="1278.8" stroke="#242426" stroke-width="3.4"/>
<line x1="2158.1" y1="1302.3" x2="2182.7" y2="1277.3" stroke="#d93d30" stroke-width="1.9"/>
<text x="2193.8" y="1294.8" font-size="22.9" fill="#ffffff" stroke="#ffffff" stroke-width="0.4" textLength="210.2" lengthAdjust="spacingAndGlyphs">Nadir Amin NIFURY</text>
<rect x="2481" y="0" width="79" height="1362" fill="url(#tb)"/>
<rect x="2478.3" y="0" width="1.7" height="1362" fill="#5b5b5d"/>
<rect x="2480" y="0" width="1.3" height="1362" fill="#2b2b2d"/>
<rect x="2481" y="178.3" width="79" height="2.4" fill="#0d0d0e"/>
<rect x="2481" y="180.7" width="79" height="46.8" fill="#242425"/>
<path d="M2481,181 L2500,181 L2484,227 L2481,227 Z" fill="#1f1f21"/>
<rect x="2506" y="43" width="1.4" height="119" fill="#4a4a4c"/>
<text x="2530.4" y="137.6" font-size="20.5" fill="#c4c4c6" >Cre</text>
<rect x="2481" y="227.5" width="79" height="1124" fill="url(#shd)"/>
<rect x="2481" y="226.8" width="79" height="1.3" fill="#8f8f90"/>
<rect x="2481" y="267.8" width="68" height="166.6" fill="url(#sbl)"/>
<rect x="2481" y="1263.2" width="79" height="87.2" fill="url(#sbl)"/>
<rect x="2481" y="1350.3" width="79" height="2" fill="#d5d5d6"/>
<rect x="2481" y="1352.2" width="79" height="10" fill="#2b2b2c"/>
<rect x="2481" y="459" width="62" height="1.6" fill="#3c3c3e"/>
<rect x="2481" y="1250.3" width="62" height="1.6" fill="#3c3c3e"/>
<rect x="2547.6" y="466" width="1.6" height="779" fill="#4a4a4c"/>
<rect x="2541.9" y="451.4" width="14.7" height="14.8" rx="2" fill="#fcfaf8" stroke="#9a9a9c" stroke-width="1.1"/>
<rect x="2541.9" y="848.6" width="14.7" height="14.8" rx="2" fill="#fcfaf8" stroke="#9a9a9c" stroke-width="1.1"/>
<rect x="2541.9" y="1244.9" width="14.7" height="14.8" rx="2" fill="#fcfaf8" stroke="#9a9a9c" stroke-width="1.1"/>
</svg>
</body></html>
